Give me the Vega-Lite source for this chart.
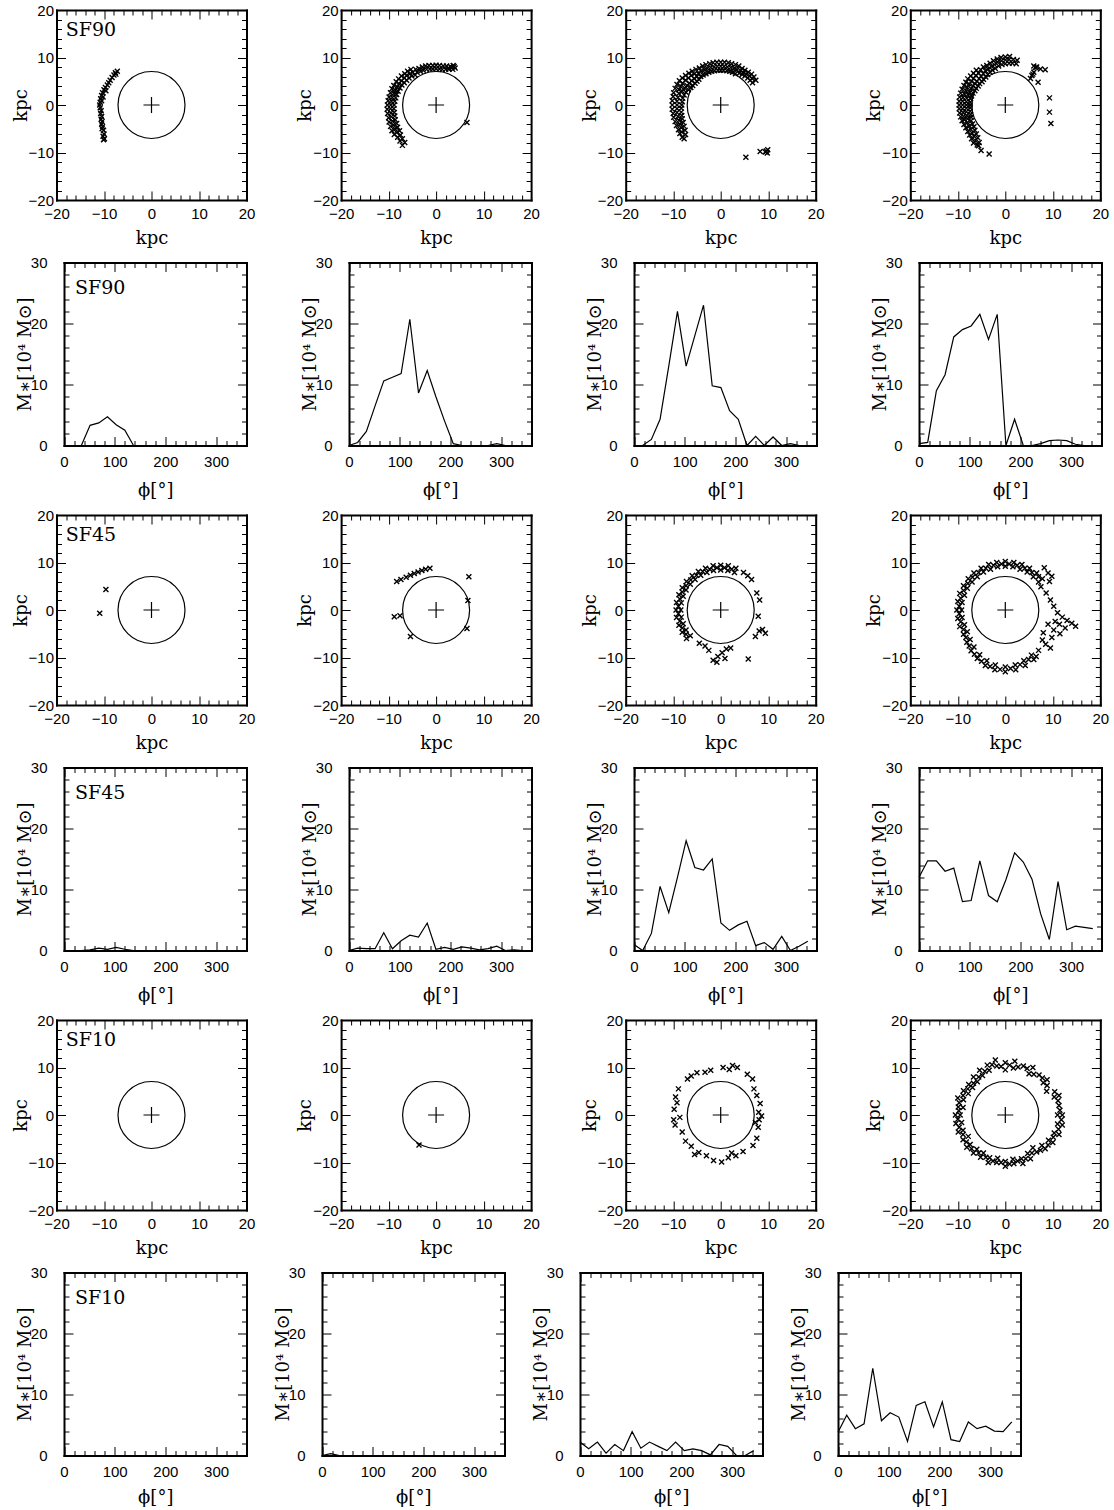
{
"$schema":"https://vega.github.io/schema/vega-lite/v6.json",
"padding":{"left":11.5,"top":3,"right":5,"bottom":0},
"config":{"view":{"stroke":null},"axis":{"grid":false,"domainColor":"black","domainWidth":2,"domainCap":"square","tickColor":"black","tickWidth":1,"labelFont":"Liberation Sans","labelFontSize":15,"labelColor":"black","labelOverlap":false,"labelFlush":false,"titleFont":"DejaVu Serif","titleFontSize":18,"titleFontWeight":"normal","titleColor":"black"}},
"datasets":{
"o":[{"x":0,"y":0}],
"lab":[{"p":"s90","x":-18.06,"y":14.6,"t":"SF90"},{"p":"h90","x":21.7,"y":24.9,"t":"SF90"},{"p":"s45","x":-18.06,"y":14.6,"t":"SF45"},{"p":"h45","x":21.7,"y":24.9,"t":"SF45"},{"p":"s10","x":-18.06,"y":14.6,"t":"SF10"},{"p":"h10","x":21.7,"y":24.9,"t":"SF10"}],
"s90a":[{"x":-7.2,"y":7.1},{"x":-7.6,"y":6.8},{"x":-7.9,"y":6.3},{"x":-7.5,"y":6.5},{"x":-8.3,"y":5.8},{"x":-8.7,"y":5.2},{"x":-9.0,"y":4.7},{"x":-9.3,"y":4.2},{"x":-9.7,"y":3.7},{"x":-10.0,"y":3.2},{"x":-9.6,"y":3.0},{"x":-10.3,"y":2.6},{"x":-10.5,"y":2.0},{"x":-10.2,"y":1.7},{"x":-10.7,"y":1.3},{"x":-10.8,"y":0.6},{"x":-10.5,"y":0.9},{"x":-10.9,"y":0.0},{"x":-10.8,"y":-0.6},{"x":-10.6,"y":-1.2},{"x":-10.7,"y":-1.8},{"x":-10.5,"y":-2.4},{"x":-10.6,"y":-3.0},{"x":-10.4,"y":-3.5},{"x":-10.5,"y":-4.0},{"x":-10.3,"y":-4.6},{"x":-10.4,"y":-5.0},{"x":-10.1,"y":-5.3},{"x":-10.0,"y":-6.1},{"x":-10.2,"y":-6.6},{"x":-9.9,"y":-7.1},{"x":-10.1,"y":-7.3}],
"s90b":[{"x":3.5,"y":7.5},{"x":3.8,"y":8.1},{"x":2.7,"y":7.5},{"x":3.0,"y":8.1},{"x":2.0,"y":7.5},{"x":2.2,"y":8.2},{"x":1.3,"y":7.5},{"x":1.5,"y":8.2},{"x":0.7,"y":7.6},{"x":0.7,"y":8.3},{"x":0,"y":7.65},{"x":0,"y":8.35},{"x":-0.7,"y":7.6},{"x":-0.7,"y":8.3},{"x":-1.3,"y":7.6},{"x":-1.5,"y":8.3},{"x":-2.0,"y":7.5},{"x":-2.2,"y":8.2},{"x":-2.7,"y":7.3},{"x":-2.9,"y":8.0},{"x":-3.3,"y":7.1},{"x":-3.6,"y":7.7},{"x":-4.0,"y":6.9},{"x":-4.3,"y":7.5},{"x":3.3,"y":7.9},{"x":4.0,"y":7.8},{"x":3.6,"y":8.3},{"x":2.6,"y":7.8},{"x":-4.4,"y":6.3},{"x":-4.9,"y":6.9},{"x":-5.3,"y":7.5},{"x":-5.1,"y":6.1},{"x":-5.5,"y":6.6},{"x":-6.0,"y":7.1},{"x":-5.7,"y":5.7},{"x":-6.2,"y":6.2},{"x":-6.6,"y":6.6},{"x":-6.2,"y":5.2},{"x":-6.7,"y":5.7},{"x":-7.3,"y":6.1},{"x":-6.7,"y":4.7},{"x":-7.3,"y":5.1},{"x":-7.9,"y":5.5},{"x":-7.2,"y":4.2},{"x":-7.8,"y":4.5},{"x":-8.4,"y":4.9},{"x":-7.6,"y":3.6},{"x":-8.2,"y":3.8},{"x":-8.9,"y":4.1},{"x":-8.0,"y":2.9},{"x":-8.6,"y":3.1},{"x":-9.3,"y":3.4},{"x":-8.3,"y":2.2},{"x":-8.9,"y":2.4},{"x":-9.6,"y":2.6},{"x":-8.5,"y":1.5},{"x":-9.2,"y":1.6},{"x":-9.9,"y":1.7},{"x":-8.7,"y":0.8},{"x":-9.4,"y":0.8},{"x":-10.1,"y":0.9},{"x":-8.85,"y":0},{"x":-9.55,"y":0},{"x":-10.25,"y":0},{"x":-8.9,"y":-0.8},{"x":-9.6,"y":-0.8},{"x":-10.3,"y":-0.9},{"x":-8.8,"y":-1.6},{"x":-9.5,"y":-1.7},{"x":-10.2,"y":-1.8},{"x":-8.7,"y":-2.3},{"x":-9.4,"y":-2.5},{"x":-10.0,"y":-2.7},{"x":-8.6,"y":-3.1},{"x":-9.2,"y":-3.4},{"x":-9.9,"y":-3.6},{"x":-8.3,"y":-3.9},{"x":-9.0,"y":-4.2},{"x":-9.6,"y":-4.5},{"x":-8.1,"y":-4.7},{"x":-8.7,"y":-5.0},{"x":-9.3,"y":-5.4},{"x":-7.7,"y":-5.4},{"x":-8.3,"y":-5.8},{"x":-8.8,"y":-6.2},{"x":-7.5,"y":-6.3},{"x":-8.1,"y":-6.8},{"x":-7.1,"y":-7.1},{"x":-7.6,"y":-7.6},{"x":-6.6,"y":-7.9},{"x":-7.1,"y":-8.5},{"x":6.5,"y":-3.7}],
"s90c":[{"x":6.7,"y":4.7},{"x":7.4,"y":5.2},{"x":6.2,"y":5.2},{"x":6.6,"y":5.6},{"x":7.0,"y":5.9},{"x":5.7,"y":5.7},{"x":6.1,"y":6.1},{"x":6.5,"y":6.5},{"x":5.1,"y":6.1},{"x":5.4,"y":6.5},{"x":5.8,"y":6.9},{"x":4.5,"y":6.4},{"x":4.8,"y":6.8},{"x":5.1,"y":7.3},{"x":3.9,"y":6.7},{"x":4.2,"y":7.2},{"x":4.5,"y":7.7},{"x":3.1,"y":6.6},{"x":3.4,"y":7.4},{"x":3.8,"y":8.2},{"x":2.5,"y":6.9},{"x":2.8,"y":7.7},{"x":3.1,"y":8.5},{"x":1.9,"y":7.1},{"x":2.1,"y":7.9},{"x":2.3,"y":8.7},{"x":1.3,"y":7.2},{"x":1.4,"y":8.0},{"x":1.6,"y":8.9},{"x":0.6,"y":7.3},{"x":0.7,"y":8.1},{"x":0.8,"y":9.0},{"x":0,"y":7.3},{"x":0,"y":8.15},{"x":0,"y":9.0},{"x":-0.6,"y":7.3},{"x":-0.7,"y":8.1},{"x":-0.8,"y":9.0},{"x":-1.3,"y":7.2},{"x":-1.4,"y":8.0},{"x":-1.6,"y":8.9},{"x":-1.9,"y":7.1},{"x":-2.1,"y":7.9},{"x":-2.3,"y":8.7},{"x":-2.5,"y":6.9},{"x":-2.8,"y":7.7},{"x":-3.1,"y":8.5},{"x":-3.1,"y":6.6},{"x":-3.4,"y":7.4},{"x":-3.8,"y":8.2},{"x":-3.7,"y":6.3},{"x":-4.1,"y":7.1},{"x":-4.5,"y":7.8},{"x":-4.2,"y":6.0},{"x":-4.7,"y":6.7},{"x":-5.2,"y":7.5},{"x":-4.6,"y":5.4},{"x":-5.0,"y":6.0},{"x":-5.5,"y":6.6},{"x":-6.0,"y":7.1},{"x":-5.0,"y":5.0},{"x":-5.6,"y":5.6},{"x":-6.2,"y":6.2},{"x":-6.7,"y":6.7},{"x":-5.4,"y":4.6},{"x":-6.1,"y":5.1},{"x":-6.8,"y":5.7},{"x":-7.4,"y":6.2},{"x":-5.9,"y":4.1},{"x":-6.6,"y":4.6},{"x":-7.4,"y":5.2},{"x":-8.1,"y":5.7},{"x":-6.3,"y":3.7},{"x":-7.1,"y":4.1},{"x":-8.0,"y":4.6},{"x":-8.7,"y":5.1},{"x":-6.8,"y":3.2},{"x":-7.6,"y":3.6},{"x":-8.4,"y":3.9},{"x":-9.2,"y":4.3},{"x":-7.3,"y":2.7},{"x":-8.1,"y":2.9},{"x":-8.8,"y":3.2},{"x":-9.6,"y":3.5},{"x":-7.7,"y":2.1},{"x":-8.8,"y":2.4},{"x":-9.9,"y":2.6},{"x":-8.0,"y":1.4},{"x":-9.0,"y":1.6},{"x":-10.0,"y":1.8},{"x":-8.1,"y":0.7},{"x":-9.2,"y":0.8},{"x":-10.2,"y":0.9},{"x":-8.2,"y":0},{"x":-9.2,"y":0},{"x":-10.2,"y":0},{"x":-8.3,"y":-0.7},{"x":-9.2,"y":-0.8},{"x":-10.2,"y":-0.9},{"x":-8.3,"y":-1.5},{"x":-9.2,"y":-1.6},{"x":-10.0,"y":-1.8},{"x":-8.2,"y":-2.2},{"x":-9.0,"y":-2.4},{"x":-9.9,"y":-2.6},{"x":-8.1,"y":-2.9},{"x":-8.8,"y":-3.2},{"x":-9.6,"y":-3.5},{"x":-7.9,"y":-3.7},{"x":-8.6,"y":-4.0},{"x":-9.3,"y":-4.3},{"x":-7.7,"y":-4.5},{"x":-8.3,"y":-4.8},{"x":-8.9,"y":-5.2},{"x":-7.5,"y":-5.3},{"x":-8.2,"y":-5.7},{"x":-8.6,"y":-6.0},{"x":-7.4,"y":-6.2},{"x":-8.1,"y":-6.8},{"x":-7.7,"y":-7.1},{"x":5.3,"y":-11.0},{"x":8.3,"y":-9.8},{"x":9.6,"y":-9.7},{"x":9.9,"y":-9.4},{"x":9.8,"y":-10.1},{"x":9.4,"y":-9.9}],
"s90d":[{"x":2.3,"y":8.7},{"x":2.5,"y":9.4},{"x":1.5,"y":8.8},{"x":1.7,"y":9.6},{"x":0.8,"y":8.8},{"x":0.8,"y":9.6},{"x":0.9,"y":10.2},{"x":0,"y":8.7},{"x":0,"y":9.45},{"x":0,"y":10.1},{"x":-0.7,"y":8.5},{"x":-0.8,"y":9.3},{"x":-0.9,"y":10.0},{"x":-1.4,"y":8.2},{"x":-1.6,"y":9.0},{"x":-1.7,"y":9.7},{"x":-2.1,"y":7.7},{"x":-2.3,"y":8.5},{"x":-2.5,"y":9.3},{"x":-2.7,"y":7.3},{"x":-2.9,"y":8.1},{"x":-3.2,"y":8.8},{"x":-3.2,"y":6.9},{"x":-3.6,"y":7.6},{"x":-3.9,"y":8.3},{"x":-3.7,"y":6.4},{"x":-4.2,"y":7.2},{"x":-4.6,"y":8.0},{"x":-4.1,"y":5.9},{"x":-4.6,"y":6.6},{"x":-5.2,"y":7.4},{"x":-4.6,"y":5.4},{"x":-5.1,"y":6.1},{"x":-5.6,"y":6.7},{"x":-6.1,"y":7.3},{"x":-4.9,"y":4.9},{"x":-5.5,"y":5.5},{"x":-6.2,"y":6.2},{"x":-6.7,"y":6.7},{"x":-5.4,"y":4.5},{"x":-6.0,"y":5.0},{"x":-6.7,"y":5.6},{"x":-7.3,"y":6.1},{"x":-5.7,"y":4.0},{"x":-6.4,"y":4.5},{"x":-7.1,"y":5.0},{"x":-7.9,"y":5.5},{"x":-6.1,"y":3.5},{"x":-6.8,"y":4.0},{"x":-7.6,"y":4.4},{"x":-8.3,"y":4.8},{"x":-6.4,"y":3.0},{"x":-7.2,"y":3.4},{"x":-8.0,"y":3.7},{"x":-8.7,"y":4.1},{"x":-6.8,"y":2.5},{"x":-7.5,"y":2.7},{"x":-8.3,"y":3.0},{"x":-9.1,"y":3.3},{"x":-7.1,"y":1.9},{"x":-7.8,"y":2.1},{"x":-8.6,"y":2.3},{"x":-9.4,"y":2.5},{"x":-7.3,"y":1.3},{"x":-8.1,"y":1.4},{"x":-8.9,"y":1.6},{"x":-9.6,"y":1.7},{"x":-7.4,"y":0.6},{"x":-8.2,"y":0.7},{"x":-9.0,"y":0.8},{"x":-9.7,"y":0.8},{"x":-7.4,"y":0},{"x":-8.2,"y":0},{"x":-9.0,"y":0},{"x":-9.7,"y":0},{"x":-7.4,"y":-0.6},{"x":-8.2,"y":-0.7},{"x":-9.0,"y":-0.8},{"x":-9.7,"y":-0.8},{"x":-7.4,"y":-1.3},{"x":-8.2,"y":-1.4},{"x":-8.9,"y":-1.6},{"x":-9.6,"y":-1.7},{"x":-7.3,"y":-2.0},{"x":-8.1,"y":-2.2},{"x":-8.8,"y":-2.4},{"x":-9.4,"y":-2.5},{"x":-7.2,"y":-2.6},{"x":-7.9,"y":-2.9},{"x":-8.6,"y":-3.1},{"x":-9.1,"y":-3.3},{"x":-7.2,"y":-3.3},{"x":-8.0,"y":-3.7},{"x":-8.7,"y":-4.1},{"x":-6.9,"y":-4.0},{"x":-7.6,"y":-4.4},{"x":-8.3,"y":-4.8},{"x":-6.6,"y":-4.6},{"x":-7.3,"y":-5.1},{"x":-7.9,"y":-5.6},{"x":-6.4,"y":-5.3},{"x":-7.0,"y":-5.9},{"x":-7.5,"y":-6.3},{"x":-6.1,"y":-6.1},{"x":-6.6,"y":-6.6},{"x":-7.1,"y":-7.1},{"x":-5.8,"y":-6.9},{"x":-6.3,"y":-7.5},{"x":-6.7,"y":-8.0},{"x":-5.5,"y":-7.9},{"x":-5.9,"y":-8.4},{"x":-5.6,"y":-8.6},{"x":-5.1,"y":-9.6},{"x":-3.4,"y":-10.3},{"x":6.3,"y":7.9},{"x":6.0,"y":8.2},{"x":6.6,"y":8.0},{"x":7.4,"y":7.6},{"x":8.4,"y":7.4},{"x":6.0,"y":6.9},{"x":5.6,"y":6.2},{"x":5.3,"y":5.6},{"x":5.8,"y":6.5},{"x":6.9,"y":4.8},{"x":9.3,"y":1.5},{"x":9.3,"y":-1.5},{"x":9.6,"y":-3.9}],
"s45a":[{"x":-9.6,"y":4.3},{"x":-10.9,"y":-0.7}],
"s45b":[{"x":-8.3,"y":6.0},{"x":-7.4,"y":6.4},{"x":-6.3,"y":6.9},{"x":-5.4,"y":7.3},{"x":-4.6,"y":7.7},{"x":-3.8,"y":8.0},{"x":-3.0,"y":8.3},{"x":-2.2,"y":8.6},{"x":-1.3,"y":8.8},{"x":6.9,"y":7.0},{"x":6.7,"y":2.0},{"x":6.5,"y":-3.9},{"x":-8.8,"y":-1.4},{"x":-7.6,"y":-1.2},{"x":-5.4,"y":-5.6}],
"s45c":[{"x":2.9,"y":7.9},{"x":3.2,"y":8.8},{"x":1.5,"y":8.3},{"x":1.6,"y":9.3},{"x":0,"y":8.4},{"x":0,"y":9.4},{"x":-1.5,"y":8.3},{"x":-1.6,"y":9.3},{"x":-2.9,"y":7.9},{"x":-3.2,"y":8.8},{"x":-4.2,"y":7.3},{"x":-4.7,"y":8.1},{"x":-5.4,"y":6.4},{"x":-6.0,"y":7.2},{"x":-6.4,"y":5.4},{"x":-7.2,"y":6.0},{"x":-7.3,"y":4.2},{"x":-8.1,"y":4.7},{"x":-7.9,"y":2.9},{"x":-8.8,"y":3.2},{"x":-8.3,"y":1.5},{"x":-9.3,"y":1.6},{"x":-8.4,"y":0},{"x":-9.4,"y":0},{"x":-8.3,"y":-1.5},{"x":-9.3,"y":-1.6},{"x":-7.9,"y":-2.9},{"x":-8.8,"y":-3.2},{"x":-7.3,"y":-4.2},{"x":-8.1,"y":-4.7},{"x":-6.4,"y":-5.4},{"x":-7.2,"y":-6.0},{"x":2.3,"y":8.6},{"x":0.8,"y":8.9},{"x":-0.8,"y":8.9},{"x":-2.3,"y":8.6},{"x":-3.8,"y":8.1},{"x":-5.1,"y":7.3},{"x":-6.3,"y":6.3},{"x":-7.3,"y":5.1},{"x":-8.1,"y":3.8},{"x":-8.6,"y":2.3},{"x":-8.9,"y":0.8},{"x":-8.9,"y":-0.8},{"x":-8.6,"y":-2.3},{"x":-8.1,"y":-3.8},{"x":-7.3,"y":-5.1},{"x":4.8,"y":7.9},{"x":5.7,"y":7.2},{"x":6.5,"y":6.4},{"x":7.6,"y":3.6},{"x":8.2,"y":2.1},{"x":7.9,"y":-1.3},{"x":8.1,"y":-4.4},{"x":8.8,"y":-4.1},{"x":9.4,"y":-4.9},{"x":7.3,"y":-5.6},{"x":1.2,"y":-8.2},{"x":0.3,"y":-9.0},{"x":-0.6,"y":-9.8},{"x":-1.6,"y":-10.6},{"x":-0.8,"y":-11.0},{"x":5.8,"y":-10.3},{"x":2.1,"y":-8.0},{"x":-3.3,"y":-7.6},{"x":-4.5,"y":-7.0},{"x":-2.5,"y":-8.5},{"x":0.9,"y":-10.2}],
"s45d":[{"x":7.0,"y":5.9},{"x":7.8,"y":6.6},{"x":5.9,"y":7.0},{"x":6.6,"y":7.8},{"x":4.6,"y":8.0},{"x":5.1,"y":8.8},{"x":3.1,"y":8.6},{"x":3.5,"y":9.6},{"x":1.6,"y":9.1},{"x":1.8,"y":10.0},{"x":0,"y":9.2},{"x":0,"y":10.2},{"x":-1.6,"y":9.1},{"x":-1.8,"y":10.0},{"x":-3.1,"y":8.6},{"x":-3.5,"y":9.6},{"x":-4.6,"y":8.0},{"x":-5.1,"y":8.8},{"x":-5.9,"y":7.0},{"x":-6.6,"y":7.8},{"x":-7.0,"y":5.9},{"x":-7.8,"y":6.6},{"x":-8.0,"y":4.6},{"x":-8.8,"y":5.1},{"x":-8.6,"y":3.1},{"x":-9.6,"y":3.5},{"x":-9.1,"y":1.6},{"x":-10.0,"y":1.8},{"x":-9.2,"y":0},{"x":-10.2,"y":0},{"x":-9.1,"y":-1.6},{"x":-10.0,"y":-1.8},{"x":-8.6,"y":-3.1},{"x":-9.6,"y":-3.5},{"x":-8.0,"y":-4.6},{"x":-8.8,"y":-5.1},{"x":-7.4,"y":-6.2},{"x":-8.1,"y":-6.8},{"x":-6.6,"y":-7.8},{"x":-7.2,"y":-8.6},{"x":-5.4,"y":-9.4},{"x":-5.9,"y":-10.2},{"x":-3.9,"y":-10.7},{"x":-4.2,"y":-11.7},{"x":-2.1,"y":-11.6},{"x":-2.2,"y":-12.6},{"x":0,"y":-12.0},{"x":0,"y":-13.0},{"x":2.1,"y":-11.6},{"x":2.2,"y":-12.6},{"x":3.9,"y":-10.7},{"x":4.2,"y":-11.7},{"x":5.5,"y":-9.5},{"x":6.0,"y":-10.4},{"x":7.0,"y":7.0},{"x":5.6,"y":7.9},{"x":4.1,"y":8.8},{"x":2.5,"y":9.4},{"x":0.8,"y":9.7},{"x":-0.8,"y":9.7},{"x":-2.5,"y":9.4},{"x":-4.1,"y":8.8},{"x":-5.6,"y":7.9},{"x":-6.9,"y":6.9},{"x":-7.9,"y":5.6},{"x":-8.8,"y":4.1},{"x":-9.4,"y":2.5},{"x":-9.7,"y":0.8},{"x":-9.7,"y":-0.8},{"x":-9.4,"y":-2.5},{"x":-8.8,"y":-4.1},{"x":-8.3,"y":-5.8},{"x":-7.6,"y":-7.6},{"x":-6.5,"y":-9.3},{"x":-5.0,"y":-10.8},{"x":-3.2,"y":-11.9},{"x":-1.1,"y":-12.5},{"x":1.1,"y":-12.3},{"x":3.1,"y":-11.5},{"x":4.9,"y":-10.4},{"x":8.2,"y":8.9},{"x":9.0,"y":7.8},{"x":9.8,"y":7.1},{"x":9.3,"y":6.0},{"x":7.5,"y":4.9},{"x":8.6,"y":3.6},{"x":9.5,"y":2.1},{"x":10.2,"y":0.8},{"x":11.0,"y":-0.6},{"x":12.0,"y":-1.5},{"x":13.0,"y":-2.2},{"x":14.0,"y":-2.8},{"x":14.8,"y":-3.4},{"x":11.4,"y":-3.0},{"x":12.6,"y":-3.8},{"x":10.5,"y":-2.4},{"x":9.0,"y":-3.0},{"x":10.2,"y":-4.2},{"x":11.5,"y":-5.0},{"x":7.8,"y":-6.3},{"x":8.5,"y":-7.2},{"x":9.5,"y":-8.0},{"x":7.0,"y":-8.5},{"x":6.5,"y":-9.8},{"x":9.8,"y":-5.8},{"x":8.0,"y":-4.8}],
"s10a":[],
"s10b":[{"x":-3.6,"y":-6.3}],
"s10c":[{"x":-7.0,"y":7.6},{"x":-6.2,"y":8.2},{"x":-5.0,"y":8.9},{"x":2.5,"y":10.4},{"x":3.5,"y":10.0},{"x":1.8,"y":9.6},{"x":5.6,"y":8.6},{"x":6.7,"y":7.6},{"x":-8.9,"y":5.5},{"x":-9.5,"y":3.8},{"x":-9.2,"y":2.6},{"x":-9.8,"y":1.2},{"x":-8.6,"y":-0.5},{"x":-9.6,"y":-2.1},{"x":-8.1,"y":-3.6},{"x":-7.4,"y":-5.5},{"x":-6.2,"y":-6.6},{"x":-4.6,"y":-7.9},{"x":-3.0,"y":-8.6},{"x":-1.5,"y":-9.6},{"x":0.2,"y":-9.9},{"x":1.6,"y":-9.0},{"x":3.2,"y":-8.6},{"x":4.7,"y":-7.7},{"x":6.8,"y":-6.4},{"x":7.6,"y":-4.9},{"x":7.9,"y":-2.6},{"x":8.1,"y":-1.0},{"x":8.0,"y":0.6},{"x":8.3,"y":2.4},{"x":7.6,"y":4.1},{"x":-9.9,"y":-1.0},{"x":-5.5,"y":-8.3},{"x":2.3,"y":-8.0},{"x":7.3,"y":-1.6},{"x":8.6,"y":-0.2},{"x":7.0,"y":5.5},{"x":-2.1,"y":9.4},{"x":-3.3,"y":9.0},{"x":0.5,"y":10.0}],
"s10d":[{"x":11.0,"y":0},{"x":12.0,"y":0},{"x":11.3,"y":2.0},{"x":10.3,"y":3.8},{"x":11.3,"y":4.1},{"x":8.7,"y":5.0},{"x":8.0,"y":6.8},{"x":8.8,"y":7.4},{"x":7.1,"y":8.4},{"x":5.0,"y":8.7},{"x":5.8,"y":10.0},{"x":3.8,"y":10.3},{"x":1.7,"y":9.9},{"x":2.0,"y":11.3},{"x":0,"y":11.0},{"x":0,"y":9.5},{"x":-1.8,"y":10.3},{"x":-2.1,"y":11.6},{"x":-3.4,"y":9.4},{"x":-3.8,"y":10.5},{"x":-4.8,"y":8.3},{"x":-5.4,"y":9.4},{"x":-5.9,"y":7.0},{"x":-6.7,"y":8.0},{"x":-6.9,"y":5.8},{"x":-7.7,"y":6.4},{"x":-7.8,"y":4.5},{"x":-8.8,"y":5.1},{"x":-8.8,"y":3.2},{"x":-10.0,"y":3.6},{"x":-8.9,"y":1.6},{"x":-9.9,"y":1.7},{"x":-9.5,"y":0},{"x":-10.5,"y":0},{"x":-9.2,"y":-1.6},{"x":-10.4,"y":-1.8},{"x":-8.9,"y":-3.2},{"x":-9.9,"y":-3.6},{"x":-7.8,"y":-4.5},{"x":-8.9,"y":-5.2},{"x":-7.4,"y":-6.2},{"x":-8.1,"y":-6.8},{"x":-6.0,"y":-7.2},{"x":-6.7,"y":-8.0},{"x":-4.6,"y":-8.0},{"x":-5.2,"y":-8.9},{"x":-3.3,"y":-9.0},{"x":-3.6,"y":-10.0},{"x":-1.6,"y":-9.1},{"x":-1.8,"y":-10.0},{"x":0,"y":-9.8},{"x":0,"y":-10.8},{"x":1.6,"y":-9.3},{"x":1.8,"y":-10.2},{"x":3.4,"y":-9.2},{"x":3.7,"y":-10.2},{"x":4.7,"y":-8.1},{"x":5.3,"y":-9.2},{"x":5.8,"y":-6.9},{"x":6.6,"y":-7.8},{"x":7.7,"y":-6.4},{"x":8.4,"y":-7.1},{"x":9.1,"y":-5.3},{"x":10.0,"y":-5.8},{"x":10.3,"y":-3.8},{"x":11.3,"y":-4.1},{"x":11.0,"y":-1.9},{"x":12.0,"y":-2.1},{"x":11.5,"y":1.0},{"x":11.1,"y":3.0},{"x":10.4,"y":4.9},{"x":8.8,"y":6.2},{"x":7.8,"y":7.8},{"x":6.0,"y":8.6},{"x":4.6,"y":9.8},{"x":2.7,"y":10.1},{"x":0.9,"y":10.5},{"x":-0.9,"y":10.2},{"x":-2.8,"y":10.6},{"x":-4.3,"y":9.2},{"x":-5.6,"y":8.0},{"x":-6.7,"y":6.7},{"x":-7.9,"y":5.5},{"x":-8.9,"y":4.1},{"x":-9.7,"y":2.6},{"x":-9.8,"y":0.9},{"x":-10.0,"y":-0.9},{"x":-9.7,"y":-2.6},{"x":-8.9,"y":-4.1},{"x":-8.2,"y":-5.7},{"x":-7.1,"y":-7.1},{"x":-5.6,"y":-8.0},{"x":-4.1,"y":-8.9},{"x":-2.6,"y":-9.7},{"x":-0.9,"y":-10.0},{"x":0.9,"y":-10.3},{"x":2.6,"y":-9.7},{"x":4.3,"y":-9.2},{"x":5.6,"y":-8.0},{"x":7.4,"y":-7.4},{"x":9.0,"y":-6.3},{"x":10.1,"y":-4.7},{"x":11.2,"y":-3.0},{"x":11.8,"y":-1.0}],
"h90a":[{"f":0,"m":0},{"f":17.14,"m":0},{"f":34.29,"m":0},{"f":51.43,"m":3.3},{"f":68.57,"m":3.7},{"f":85.71,"m":4.7},{"f":102.86,"m":3.4},{"f":120,"m":2.5},{"f":137.14,"m":0},{"f":154.29,"m":0},{"f":171.43,"m":0},{"f":188.57,"m":0},{"f":205.71,"m":0},{"f":222.86,"m":0},{"f":240,"m":0},{"f":257.14,"m":0},{"f":274.29,"m":0},{"f":291.43,"m":0},{"f":308.57,"m":0},{"f":325.71,"m":0},{"f":342.86,"m":0}],
"h90b":[{"f":0,"m":0},{"f":17.14,"m":0.5},{"f":34.29,"m":2.3},{"f":51.43,"m":6.5},{"f":68.57,"m":10.6},{"f":85.71,"m":11.2},{"f":102.86,"m":11.8},{"f":120,"m":20.7},{"f":137.14,"m":8.6},{"f":154.29,"m":12.3},{"f":171.43,"m":8.0},{"f":188.57,"m":4.0},{"f":205.71,"m":0.3},{"f":222.86,"m":0},{"f":240,"m":0},{"f":257.14,"m":0},{"f":274.29,"m":0},{"f":291.43,"m":0.3},{"f":308.57,"m":0},{"f":325.71,"m":0},{"f":342.86,"m":0}],
"h90c":[{"f":0,"m":0},{"f":17.14,"m":0},{"f":34.29,"m":1.0},{"f":51.43,"m":4.3},{"f":68.57,"m":13.0},{"f":85.71,"m":22.0},{"f":102.86,"m":13.0},{"f":120,"m":18.0},{"f":137.14,"m":23.0},{"f":154.29,"m":9.8},{"f":171.43,"m":9.5},{"f":188.57,"m":5.7},{"f":205.71,"m":4.3},{"f":222.86,"m":0},{"f":240,"m":1.5},{"f":257.14,"m":0},{"f":274.29,"m":1.4},{"f":291.43,"m":0},{"f":308.57,"m":0.3},{"f":325.71,"m":0},{"f":342.86,"m":0}],
"h90d":[{"f":0,"m":0.3},{"f":17.14,"m":0.5},{"f":34.29,"m":9.0},{"f":51.43,"m":11.6},{"f":68.57,"m":17.8},{"f":85.71,"m":19.0},{"f":102.86,"m":19.6},{"f":120,"m":21.5},{"f":137.14,"m":17.4},{"f":154.29,"m":21.5},{"f":171.43,"m":0},{"f":188.57,"m":4.3},{"f":205.71,"m":0},{"f":222.86,"m":0},{"f":240,"m":0.3},{"f":257.14,"m":0.8},{"f":274.29,"m":0.9},{"f":291.43,"m":0.8},{"f":308.57,"m":0.2},{"f":325.71,"m":0},{"f":342.86,"m":0}],
"h45a":[{"f":0,"m":0},{"f":17.14,"m":0},{"f":34.29,"m":0},{"f":51.43,"m":0.1},{"f":68.57,"m":0.4},{"f":85.71,"m":0.2},{"f":102.86,"m":0.5},{"f":120,"m":0.2},{"f":137.14,"m":0},{"f":154.29,"m":0},{"f":171.43,"m":0},{"f":188.57,"m":0},{"f":205.71,"m":0},{"f":222.86,"m":0},{"f":240,"m":0},{"f":257.14,"m":0},{"f":274.29,"m":0},{"f":291.43,"m":0},{"f":308.57,"m":0},{"f":325.71,"m":0},{"f":342.86,"m":0}],
"h45b":[{"f":0,"m":0},{"f":17.14,"m":0.4},{"f":34.29,"m":0.3},{"f":51.43,"m":0.3},{"f":68.57,"m":2.9},{"f":85.71,"m":0.3},{"f":102.86,"m":1.6},{"f":120,"m":2.5},{"f":137.14,"m":2.2},{"f":154.29,"m":4.5},{"f":171.43,"m":0.2},{"f":188.57,"m":0.5},{"f":205.71,"m":0.2},{"f":222.86,"m":0.6},{"f":240,"m":0.4},{"f":257.14,"m":0.1},{"f":274.29,"m":0.3},{"f":291.43,"m":0.7},{"f":308.57,"m":0},{"f":325.71,"m":0.1},{"f":342.86,"m":0}],
"h45c":[{"f":0,"m":1.0},{"f":17.14,"m":0},{"f":34.29,"m":2.8},{"f":51.43,"m":10.5},{"f":68.57,"m":6.2},{"f":85.71,"m":12.0},{"f":102.86,"m":18.0},{"f":120,"m":13.6},{"f":137.14,"m":13.2},{"f":154.29,"m":15.0},{"f":171.43,"m":4.5},{"f":188.57,"m":3.3},{"f":205.71,"m":4.2},{"f":222.86,"m":4.8},{"f":240,"m":0.8},{"f":257.14,"m":1.3},{"f":274.29,"m":0.2},{"f":291.43,"m":2.3},{"f":308.57,"m":0},{"f":325.71,"m":0.7},{"f":342.86,"m":1.5}],
"h45d":[{"f":0,"m":12.0},{"f":17.14,"m":14.7},{"f":34.29,"m":14.7},{"f":51.43,"m":13.0},{"f":68.57,"m":13.5},{"f":85.71,"m":8.0},{"f":102.86,"m":8.2},{"f":120,"m":14.7},{"f":137.14,"m":9.0},{"f":154.29,"m":8.0},{"f":171.43,"m":11.6},{"f":188.57,"m":16.0},{"f":205.71,"m":14.5},{"f":222.86,"m":11.7},{"f":240,"m":6.0},{"f":257.14,"m":1.8},{"f":274.29,"m":11.3},{"f":291.43,"m":3.4},{"f":308.57,"m":4.0},{"f":325.71,"m":3.8},{"f":342.86,"m":3.6}],
"h10a":[{"f":0,"m":0},{"f":17.14,"m":0},{"f":34.29,"m":0},{"f":51.43,"m":0},{"f":68.57,"m":0},{"f":85.71,"m":0},{"f":102.86,"m":0},{"f":120,"m":0},{"f":137.14,"m":0},{"f":154.29,"m":0},{"f":171.43,"m":0},{"f":188.57,"m":0},{"f":205.71,"m":0},{"f":222.86,"m":0},{"f":240,"m":0},{"f":257.14,"m":0},{"f":274.29,"m":0},{"f":291.43,"m":0},{"f":308.57,"m":0},{"f":325.71,"m":0},{"f":342.86,"m":0}],
"h10b":[{"f":0,"m":0},{"f":17.14,"m":0.3},{"f":34.29,"m":0},{"f":51.43,"m":0},{"f":68.57,"m":0},{"f":85.71,"m":0},{"f":102.86,"m":0},{"f":120,"m":0},{"f":137.14,"m":0},{"f":154.29,"m":0},{"f":171.43,"m":0},{"f":188.57,"m":0},{"f":205.71,"m":0},{"f":222.86,"m":0},{"f":240,"m":0},{"f":257.14,"m":0},{"f":274.29,"m":0},{"f":291.43,"m":0},{"f":308.57,"m":0},{"f":325.71,"m":0},{"f":342.86,"m":0}],
"h10c":[{"f":0,"m":2.2},{"f":17.14,"m":1.1},{"f":34.29,"m":2.2},{"f":51.43,"m":0.4},{"f":68.57,"m":1.8},{"f":85.71,"m":0.8},{"f":102.86,"m":3.9},{"f":120,"m":1.2},{"f":137.14,"m":2.2},{"f":154.29,"m":1.5},{"f":171.43,"m":0.8},{"f":188.57,"m":2.2},{"f":205.71,"m":0.8},{"f":222.86,"m":1.1},{"f":240,"m":0.8},{"f":257.14,"m":0.1},{"f":274.29,"m":1.8},{"f":291.43,"m":1.5},{"f":308.57,"m":0},{"f":325.71,"m":0},{"f":342.86,"m":0.8}],
"h10d":[{"f":0,"m":3.8},{"f":17.14,"m":6.6},{"f":34.29,"m":4.4},{"f":51.43,"m":5.2},{"f":68.57,"m":14.3},{"f":85.71,"m":5.7},{"f":102.86,"m":7.0},{"f":120,"m":6.3},{"f":137.14,"m":2.3},{"f":154.29,"m":8.2},{"f":171.43,"m":8.8},{"f":188.57,"m":4.7},{"f":205.71,"m":8.8},{"f":222.86,"m":2.6},{"f":240,"m":2.3},{"f":257.14,"m":5.5},{"f":274.29,"m":4.4},{"f":291.43,"m":4.8},{"f":308.57,"m":4.0},{"f":325.71,"m":3.9},{"f":342.86,"m":5.5}]
},
"spacing":8.5,
"vconcat":[
{"spacing":40.6,"hconcat":[
{"width":190,"height":190,"resolve":{"axis":{"x":"independent","y":"independent"}},"layer":[
{"data":{"name":"o"},"mark":{"type":"point","shape":"circle","size":4489,"filled":false,"stroke":"black","strokeWidth":1.2,"opacity":1},"encoding":{"x":{"field":"x","type":"quantitative","scale":{"domain":[-20,20],"nice":false,"zero":false},"axis":{"orient":"bottom","values":[-20,-18,-16,-14,-12,-10,-8,-6,-4,-2,0,2,4,6,8,10,12,14,16,18,20],"tickSize":{"condition":{"test":"datum.value % 10 === 0","value":-9},"value":-5},"labelExpr":"datum.value % 10 === 0 ? datum.label : ''","labelPadding":15,"title":"kpc","titlePadding":4}},"y":{"field":"y","type":"quantitative","scale":{"domain":[-20,20],"nice":false,"zero":false},"axis":{"orient":"left","values":[-20,-18,-16,-14,-12,-10,-8,-6,-4,-2,0,2,4,6,8,10,12,14,16,18,20],"tickSize":{"condition":{"test":"datum.value % 10 === 0","value":-9},"value":-5},"labelExpr":"datum.value % 10 === 0 ? datum.label : ''","labelPadding":12,"title":"kpc","titlePadding":-2}}}},
{"data":{"name":"o"},"mark":{"type":"point","shape":"M-1,0L1,0M0,-1L0,1","size":256,"filled":false,"stroke":"black","strokeWidth":1.2,"opacity":1},"encoding":{"x":{"field":"x","type":"quantitative","scale":{"domain":[-20,20],"nice":false,"zero":false},"axis":null},"y":{"field":"y","type":"quantitative","scale":{"domain":[-20,20],"nice":false,"zero":false},"axis":null}}},
{"data":{"name":"s90a"},"mark":{"type":"point","shape":"M-1,-1L1,1M-1,1L1,-1","size":25,"filled":false,"stroke":"black","strokeWidth":1.4,"opacity":1},"encoding":{"x":{"field":"x","type":"quantitative","scale":{"domain":[-20,20],"nice":false,"zero":false},"axis":{"orient":"top","values":[-20,-18,-16,-14,-12,-10,-8,-6,-4,-2,0,2,4,6,8,10,12,14,16,18,20],"tickSize":{"condition":{"test":"datum.value % 10 === 0","value":-9},"value":-5},"labels":false,"title":null}},"y":{"field":"y","type":"quantitative","scale":{"domain":[-20,20],"nice":false,"zero":false},"axis":{"orient":"right","values":[-20,-18,-16,-14,-12,-10,-8,-6,-4,-2,0,2,4,6,8,10,12,14,16,18,20],"tickSize":{"condition":{"test":"datum.value % 10 === 0","value":-9},"value":-5},"labels":false,"title":null}}}},
{"data":{"name":"lab"},"transform":[{"filter":"datum.p === 's90'"}],"mark":{"type":"text","align":"left","baseline":"alphabetic","font":"DejaVu Serif","fontSize":19,"color":"black"},"encoding":{"x":{"field":"x","type":"quantitative","scale":{"domain":[-20,20],"nice":false,"zero":false},"axis":null},"y":{"field":"y","type":"quantitative","scale":{"domain":[-20,20],"nice":false,"zero":false},"axis":null},"text":{"field":"t","type":"nominal"}}}
]},
{"width":190,"height":190,"resolve":{"axis":{"x":"independent","y":"independent"}},"layer":[
{"data":{"name":"o"},"mark":{"type":"point","shape":"circle","size":4489,"filled":false,"stroke":"black","strokeWidth":1.2,"opacity":1},"encoding":{"x":{"field":"x","type":"quantitative","scale":{"domain":[-20,20],"nice":false,"zero":false},"axis":{"orient":"bottom","values":[-20,-18,-16,-14,-12,-10,-8,-6,-4,-2,0,2,4,6,8,10,12,14,16,18,20],"tickSize":{"condition":{"test":"datum.value % 10 === 0","value":-9},"value":-5},"labelExpr":"datum.value % 10 === 0 ? datum.label : ''","labelPadding":15,"title":"kpc","titlePadding":4}},"y":{"field":"y","type":"quantitative","scale":{"domain":[-20,20],"nice":false,"zero":false},"axis":{"orient":"left","values":[-20,-18,-16,-14,-12,-10,-8,-6,-4,-2,0,2,4,6,8,10,12,14,16,18,20],"tickSize":{"condition":{"test":"datum.value % 10 === 0","value":-9},"value":-5},"labelExpr":"datum.value % 10 === 0 ? datum.label : ''","labelPadding":12,"title":"kpc","titlePadding":-2}}}},
{"data":{"name":"o"},"mark":{"type":"point","shape":"M-1,0L1,0M0,-1L0,1","size":256,"filled":false,"stroke":"black","strokeWidth":1.2,"opacity":1},"encoding":{"x":{"field":"x","type":"quantitative","scale":{"domain":[-20,20],"nice":false,"zero":false},"axis":null},"y":{"field":"y","type":"quantitative","scale":{"domain":[-20,20],"nice":false,"zero":false},"axis":null}}},
{"data":{"name":"s90b"},"mark":{"type":"point","shape":"M-1,-1L1,1M-1,1L1,-1","size":25,"filled":false,"stroke":"black","strokeWidth":1.4,"opacity":1},"encoding":{"x":{"field":"x","type":"quantitative","scale":{"domain":[-20,20],"nice":false,"zero":false},"axis":{"orient":"top","values":[-20,-18,-16,-14,-12,-10,-8,-6,-4,-2,0,2,4,6,8,10,12,14,16,18,20],"tickSize":{"condition":{"test":"datum.value % 10 === 0","value":-9},"value":-5},"labels":false,"title":null}},"y":{"field":"y","type":"quantitative","scale":{"domain":[-20,20],"nice":false,"zero":false},"axis":{"orient":"right","values":[-20,-18,-16,-14,-12,-10,-8,-6,-4,-2,0,2,4,6,8,10,12,14,16,18,20],"tickSize":{"condition":{"test":"datum.value % 10 === 0","value":-9},"value":-5},"labels":false,"title":null}}}}
]},
{"width":190,"height":190,"resolve":{"axis":{"x":"independent","y":"independent"}},"layer":[
{"data":{"name":"o"},"mark":{"type":"point","shape":"circle","size":4489,"filled":false,"stroke":"black","strokeWidth":1.2,"opacity":1},"encoding":{"x":{"field":"x","type":"quantitative","scale":{"domain":[-20,20],"nice":false,"zero":false},"axis":{"orient":"bottom","values":[-20,-18,-16,-14,-12,-10,-8,-6,-4,-2,0,2,4,6,8,10,12,14,16,18,20],"tickSize":{"condition":{"test":"datum.value % 10 === 0","value":-9},"value":-5},"labelExpr":"datum.value % 10 === 0 ? datum.label : ''","labelPadding":15,"title":"kpc","titlePadding":4}},"y":{"field":"y","type":"quantitative","scale":{"domain":[-20,20],"nice":false,"zero":false},"axis":{"orient":"left","values":[-20,-18,-16,-14,-12,-10,-8,-6,-4,-2,0,2,4,6,8,10,12,14,16,18,20],"tickSize":{"condition":{"test":"datum.value % 10 === 0","value":-9},"value":-5},"labelExpr":"datum.value % 10 === 0 ? datum.label : ''","labelPadding":12,"title":"kpc","titlePadding":-2}}}},
{"data":{"name":"o"},"mark":{"type":"point","shape":"M-1,0L1,0M0,-1L0,1","size":256,"filled":false,"stroke":"black","strokeWidth":1.2,"opacity":1},"encoding":{"x":{"field":"x","type":"quantitative","scale":{"domain":[-20,20],"nice":false,"zero":false},"axis":null},"y":{"field":"y","type":"quantitative","scale":{"domain":[-20,20],"nice":false,"zero":false},"axis":null}}},
{"data":{"name":"s90c"},"mark":{"type":"point","shape":"M-1,-1L1,1M-1,1L1,-1","size":25,"filled":false,"stroke":"black","strokeWidth":1.4,"opacity":1},"encoding":{"x":{"field":"x","type":"quantitative","scale":{"domain":[-20,20],"nice":false,"zero":false},"axis":{"orient":"top","values":[-20,-18,-16,-14,-12,-10,-8,-6,-4,-2,0,2,4,6,8,10,12,14,16,18,20],"tickSize":{"condition":{"test":"datum.value % 10 === 0","value":-9},"value":-5},"labels":false,"title":null}},"y":{"field":"y","type":"quantitative","scale":{"domain":[-20,20],"nice":false,"zero":false},"axis":{"orient":"right","values":[-20,-18,-16,-14,-12,-10,-8,-6,-4,-2,0,2,4,6,8,10,12,14,16,18,20],"tickSize":{"condition":{"test":"datum.value % 10 === 0","value":-9},"value":-5},"labels":false,"title":null}}}}
]},
{"width":190,"height":190,"resolve":{"axis":{"x":"independent","y":"independent"}},"layer":[
{"data":{"name":"o"},"mark":{"type":"point","shape":"circle","size":4489,"filled":false,"stroke":"black","strokeWidth":1.2,"opacity":1},"encoding":{"x":{"field":"x","type":"quantitative","scale":{"domain":[-20,20],"nice":false,"zero":false},"axis":{"orient":"bottom","values":[-20,-18,-16,-14,-12,-10,-8,-6,-4,-2,0,2,4,6,8,10,12,14,16,18,20],"tickSize":{"condition":{"test":"datum.value % 10 === 0","value":-9},"value":-5},"labelExpr":"datum.value % 10 === 0 ? datum.label : ''","labelPadding":15,"title":"kpc","titlePadding":4}},"y":{"field":"y","type":"quantitative","scale":{"domain":[-20,20],"nice":false,"zero":false},"axis":{"orient":"left","values":[-20,-18,-16,-14,-12,-10,-8,-6,-4,-2,0,2,4,6,8,10,12,14,16,18,20],"tickSize":{"condition":{"test":"datum.value % 10 === 0","value":-9},"value":-5},"labelExpr":"datum.value % 10 === 0 ? datum.label : ''","labelPadding":12,"title":"kpc","titlePadding":-2}}}},
{"data":{"name":"o"},"mark":{"type":"point","shape":"M-1,0L1,0M0,-1L0,1","size":256,"filled":false,"stroke":"black","strokeWidth":1.2,"opacity":1},"encoding":{"x":{"field":"x","type":"quantitative","scale":{"domain":[-20,20],"nice":false,"zero":false},"axis":null},"y":{"field":"y","type":"quantitative","scale":{"domain":[-20,20],"nice":false,"zero":false},"axis":null}}},
{"data":{"name":"s90d"},"mark":{"type":"point","shape":"M-1,-1L1,1M-1,1L1,-1","size":25,"filled":false,"stroke":"black","strokeWidth":1.4,"opacity":1},"encoding":{"x":{"field":"x","type":"quantitative","scale":{"domain":[-20,20],"nice":false,"zero":false},"axis":{"orient":"top","values":[-20,-18,-16,-14,-12,-10,-8,-6,-4,-2,0,2,4,6,8,10,12,14,16,18,20],"tickSize":{"condition":{"test":"datum.value % 10 === 0","value":-9},"value":-5},"labels":false,"title":null}},"y":{"field":"y","type":"quantitative","scale":{"domain":[-20,20],"nice":false,"zero":false},"axis":{"orient":"right","values":[-20,-18,-16,-14,-12,-10,-8,-6,-4,-2,0,2,4,6,8,10,12,14,16,18,20],"tickSize":{"condition":{"test":"datum.value % 10 === 0","value":-9},"value":-5},"labels":false,"title":null}}}}
]}
]},
{"spacing":53,"hconcat":[
{"width":190,"height":183,"resolve":{"axis":{"x":"independent","y":"independent"}},"layer":[
{"data":{"name":"h90a"},"mark":{"type":"line","color":"black","strokeWidth":1.2},"encoding":{"x":{"field":"f","type":"quantitative","scale":{"domain":[0,360],"range":[7.5,190],"nice":false,"zero":false},"axis":{"orient":"bottom","values":[0,20,40,60,80,100,120,140,160,180,200,220,240,260,280,300,320,340,360],"tickSize":{"condition":{"test":"datum.value % 100 === 0","value":-9},"value":-5},"labelExpr":"datum.value % 100 === 0 ? datum.label : ''","labelPadding":18,"title":"ϕ[°]","titlePadding":8}},"y":{"field":"m","type":"quantitative","scale":{"domain":[0,30],"nice":false,"zero":false},"axis":{"orient":"left","offset":-7.5,"values":[0,2,4,6,8,10,12,14,16,18,20,22,24,26,28,30],"tickSize":{"condition":{"test":"datum.value % 10 === 0","value":-9},"value":-5},"labelExpr":"datum.value % 10 === 0 ? datum.label : ''","labelPadding":26,"title":"M∗[10⁴ M⊙]","titlePadding":-4}}}},
{"data":{"name":"h90a"},"mark":{"type":"line","color":"black","opacity":0},"encoding":{"x":{"field":"f","type":"quantitative","scale":{"domain":[0,360],"range":[7.5,190],"nice":false,"zero":false},"axis":{"orient":"top","values":[0,20,40,60,80,100,120,140,160,180,200,220,240,260,280,300,320,340,360],"tickSize":{"condition":{"test":"datum.value % 100 === 0","value":-9},"value":-5},"labels":false,"title":null}},"y":{"field":"m","type":"quantitative","scale":{"domain":[0,30],"nice":false,"zero":false},"axis":{"orient":"right","values":[0,2,4,6,8,10,12,14,16,18,20,22,24,26,28,30],"tickSize":{"condition":{"test":"datum.value % 10 === 0","value":-9},"value":-5},"labels":false,"title":null}}}},
{"data":{"name":"lab"},"transform":[{"filter":"datum.p === 'h90'"}],"mark":{"type":"text","align":"left","baseline":"alphabetic","font":"DejaVu Serif","fontSize":19,"color":"black"},"encoding":{"x":{"field":"x","type":"quantitative","scale":{"domain":[0,360],"range":[7.5,190],"nice":false,"zero":false},"axis":null},"y":{"field":"y","type":"quantitative","scale":{"domain":[0,30],"nice":false,"zero":false},"axis":null},"text":{"field":"t","type":"nominal"}}}
]},
{"width":190,"height":183,"resolve":{"axis":{"x":"independent","y":"independent"}},"layer":[
{"data":{"name":"h90b"},"mark":{"type":"line","color":"black","strokeWidth":1.2},"encoding":{"x":{"field":"f","type":"quantitative","scale":{"domain":[0,360],"range":[7.5,190],"nice":false,"zero":false},"axis":{"orient":"bottom","values":[0,20,40,60,80,100,120,140,160,180,200,220,240,260,280,300,320,340,360],"tickSize":{"condition":{"test":"datum.value % 100 === 0","value":-9},"value":-5},"labelExpr":"datum.value % 100 === 0 ? datum.label : ''","labelPadding":18,"title":"ϕ[°]","titlePadding":8}},"y":{"field":"m","type":"quantitative","scale":{"domain":[0,30],"nice":false,"zero":false},"axis":{"orient":"left","offset":-7.5,"values":[0,2,4,6,8,10,12,14,16,18,20,22,24,26,28,30],"tickSize":{"condition":{"test":"datum.value % 10 === 0","value":-9},"value":-5},"labelExpr":"datum.value % 10 === 0 ? datum.label : ''","labelPadding":26,"title":"M∗[10⁴ M⊙]","titlePadding":-4}}}},
{"data":{"name":"h90b"},"mark":{"type":"line","color":"black","opacity":0},"encoding":{"x":{"field":"f","type":"quantitative","scale":{"domain":[0,360],"range":[7.5,190],"nice":false,"zero":false},"axis":{"orient":"top","values":[0,20,40,60,80,100,120,140,160,180,200,220,240,260,280,300,320,340,360],"tickSize":{"condition":{"test":"datum.value % 100 === 0","value":-9},"value":-5},"labels":false,"title":null}},"y":{"field":"m","type":"quantitative","scale":{"domain":[0,30],"nice":false,"zero":false},"axis":{"orient":"right","values":[0,2,4,6,8,10,12,14,16,18,20,22,24,26,28,30],"tickSize":{"condition":{"test":"datum.value % 10 === 0","value":-9},"value":-5},"labels":false,"title":null}}}}
]},
{"width":190,"height":183,"resolve":{"axis":{"x":"independent","y":"independent"}},"layer":[
{"data":{"name":"h90c"},"mark":{"type":"line","color":"black","strokeWidth":1.2},"encoding":{"x":{"field":"f","type":"quantitative","scale":{"domain":[0,360],"range":[7.5,190],"nice":false,"zero":false},"axis":{"orient":"bottom","values":[0,20,40,60,80,100,120,140,160,180,200,220,240,260,280,300,320,340,360],"tickSize":{"condition":{"test":"datum.value % 100 === 0","value":-9},"value":-5},"labelExpr":"datum.value % 100 === 0 ? datum.label : ''","labelPadding":18,"title":"ϕ[°]","titlePadding":8}},"y":{"field":"m","type":"quantitative","scale":{"domain":[0,30],"nice":false,"zero":false},"axis":{"orient":"left","offset":-7.5,"values":[0,2,4,6,8,10,12,14,16,18,20,22,24,26,28,30],"tickSize":{"condition":{"test":"datum.value % 10 === 0","value":-9},"value":-5},"labelExpr":"datum.value % 10 === 0 ? datum.label : ''","labelPadding":26,"title":"M∗[10⁴ M⊙]","titlePadding":-4}}}},
{"data":{"name":"h90c"},"mark":{"type":"line","color":"black","opacity":0},"encoding":{"x":{"field":"f","type":"quantitative","scale":{"domain":[0,360],"range":[7.5,190],"nice":false,"zero":false},"axis":{"orient":"top","values":[0,20,40,60,80,100,120,140,160,180,200,220,240,260,280,300,320,340,360],"tickSize":{"condition":{"test":"datum.value % 100 === 0","value":-9},"value":-5},"labels":false,"title":null}},"y":{"field":"m","type":"quantitative","scale":{"domain":[0,30],"nice":false,"zero":false},"axis":{"orient":"right","values":[0,2,4,6,8,10,12,14,16,18,20,22,24,26,28,30],"tickSize":{"condition":{"test":"datum.value % 10 === 0","value":-9},"value":-5},"labels":false,"title":null}}}}
]},
{"width":190,"height":183,"resolve":{"axis":{"x":"independent","y":"independent"}},"layer":[
{"data":{"name":"h90d"},"mark":{"type":"line","color":"black","strokeWidth":1.2},"encoding":{"x":{"field":"f","type":"quantitative","scale":{"domain":[0,360],"range":[7.5,190],"nice":false,"zero":false},"axis":{"orient":"bottom","values":[0,20,40,60,80,100,120,140,160,180,200,220,240,260,280,300,320,340,360],"tickSize":{"condition":{"test":"datum.value % 100 === 0","value":-9},"value":-5},"labelExpr":"datum.value % 100 === 0 ? datum.label : ''","labelPadding":18,"title":"ϕ[°]","titlePadding":8}},"y":{"field":"m","type":"quantitative","scale":{"domain":[0,30],"nice":false,"zero":false},"axis":{"orient":"left","offset":-7.5,"values":[0,2,4,6,8,10,12,14,16,18,20,22,24,26,28,30],"tickSize":{"condition":{"test":"datum.value % 10 === 0","value":-9},"value":-5},"labelExpr":"datum.value % 10 === 0 ? datum.label : ''","labelPadding":26,"title":"M∗[10⁴ M⊙]","titlePadding":-4}}}},
{"data":{"name":"h90d"},"mark":{"type":"line","color":"black","opacity":0},"encoding":{"x":{"field":"f","type":"quantitative","scale":{"domain":[0,360],"range":[7.5,190],"nice":false,"zero":false},"axis":{"orient":"top","values":[0,20,40,60,80,100,120,140,160,180,200,220,240,260,280,300,320,340,360],"tickSize":{"condition":{"test":"datum.value % 100 === 0","value":-9},"value":-5},"labels":false,"title":null}},"y":{"field":"m","type":"quantitative","scale":{"domain":[0,30],"nice":false,"zero":false},"axis":{"orient":"right","values":[0,2,4,6,8,10,12,14,16,18,20,22,24,26,28,30],"tickSize":{"condition":{"test":"datum.value % 10 === 0","value":-9},"value":-5},"labels":false,"title":null}}}}
]}
]},
{"spacing":40.6,"hconcat":[
{"width":190,"height":190,"resolve":{"axis":{"x":"independent","y":"independent"}},"layer":[
{"data":{"name":"o"},"mark":{"type":"point","shape":"circle","size":4489,"filled":false,"stroke":"black","strokeWidth":1.2,"opacity":1},"encoding":{"x":{"field":"x","type":"quantitative","scale":{"domain":[-20,20],"nice":false,"zero":false},"axis":{"orient":"bottom","values":[-20,-18,-16,-14,-12,-10,-8,-6,-4,-2,0,2,4,6,8,10,12,14,16,18,20],"tickSize":{"condition":{"test":"datum.value % 10 === 0","value":-9},"value":-5},"labelExpr":"datum.value % 10 === 0 ? datum.label : ''","labelPadding":15,"title":"kpc","titlePadding":4}},"y":{"field":"y","type":"quantitative","scale":{"domain":[-20,20],"nice":false,"zero":false},"axis":{"orient":"left","values":[-20,-18,-16,-14,-12,-10,-8,-6,-4,-2,0,2,4,6,8,10,12,14,16,18,20],"tickSize":{"condition":{"test":"datum.value % 10 === 0","value":-9},"value":-5},"labelExpr":"datum.value % 10 === 0 ? datum.label : ''","labelPadding":12,"title":"kpc","titlePadding":-2}}}},
{"data":{"name":"o"},"mark":{"type":"point","shape":"M-1,0L1,0M0,-1L0,1","size":256,"filled":false,"stroke":"black","strokeWidth":1.2,"opacity":1},"encoding":{"x":{"field":"x","type":"quantitative","scale":{"domain":[-20,20],"nice":false,"zero":false},"axis":null},"y":{"field":"y","type":"quantitative","scale":{"domain":[-20,20],"nice":false,"zero":false},"axis":null}}},
{"data":{"name":"s45a"},"mark":{"type":"point","shape":"M-1,-1L1,1M-1,1L1,-1","size":25,"filled":false,"stroke":"black","strokeWidth":1.4,"opacity":1},"encoding":{"x":{"field":"x","type":"quantitative","scale":{"domain":[-20,20],"nice":false,"zero":false},"axis":{"orient":"top","values":[-20,-18,-16,-14,-12,-10,-8,-6,-4,-2,0,2,4,6,8,10,12,14,16,18,20],"tickSize":{"condition":{"test":"datum.value % 10 === 0","value":-9},"value":-5},"labels":false,"title":null}},"y":{"field":"y","type":"quantitative","scale":{"domain":[-20,20],"nice":false,"zero":false},"axis":{"orient":"right","values":[-20,-18,-16,-14,-12,-10,-8,-6,-4,-2,0,2,4,6,8,10,12,14,16,18,20],"tickSize":{"condition":{"test":"datum.value % 10 === 0","value":-9},"value":-5},"labels":false,"title":null}}}},
{"data":{"name":"lab"},"transform":[{"filter":"datum.p === 's45'"}],"mark":{"type":"text","align":"left","baseline":"alphabetic","font":"DejaVu Serif","fontSize":19,"color":"black"},"encoding":{"x":{"field":"x","type":"quantitative","scale":{"domain":[-20,20],"nice":false,"zero":false},"axis":null},"y":{"field":"y","type":"quantitative","scale":{"domain":[-20,20],"nice":false,"zero":false},"axis":null},"text":{"field":"t","type":"nominal"}}}
]},
{"width":190,"height":190,"resolve":{"axis":{"x":"independent","y":"independent"}},"layer":[
{"data":{"name":"o"},"mark":{"type":"point","shape":"circle","size":4489,"filled":false,"stroke":"black","strokeWidth":1.2,"opacity":1},"encoding":{"x":{"field":"x","type":"quantitative","scale":{"domain":[-20,20],"nice":false,"zero":false},"axis":{"orient":"bottom","values":[-20,-18,-16,-14,-12,-10,-8,-6,-4,-2,0,2,4,6,8,10,12,14,16,18,20],"tickSize":{"condition":{"test":"datum.value % 10 === 0","value":-9},"value":-5},"labelExpr":"datum.value % 10 === 0 ? datum.label : ''","labelPadding":15,"title":"kpc","titlePadding":4}},"y":{"field":"y","type":"quantitative","scale":{"domain":[-20,20],"nice":false,"zero":false},"axis":{"orient":"left","values":[-20,-18,-16,-14,-12,-10,-8,-6,-4,-2,0,2,4,6,8,10,12,14,16,18,20],"tickSize":{"condition":{"test":"datum.value % 10 === 0","value":-9},"value":-5},"labelExpr":"datum.value % 10 === 0 ? datum.label : ''","labelPadding":12,"title":"kpc","titlePadding":-2}}}},
{"data":{"name":"o"},"mark":{"type":"point","shape":"M-1,0L1,0M0,-1L0,1","size":256,"filled":false,"stroke":"black","strokeWidth":1.2,"opacity":1},"encoding":{"x":{"field":"x","type":"quantitative","scale":{"domain":[-20,20],"nice":false,"zero":false},"axis":null},"y":{"field":"y","type":"quantitative","scale":{"domain":[-20,20],"nice":false,"zero":false},"axis":null}}},
{"data":{"name":"s45b"},"mark":{"type":"point","shape":"M-1,-1L1,1M-1,1L1,-1","size":25,"filled":false,"stroke":"black","strokeWidth":1.4,"opacity":1},"encoding":{"x":{"field":"x","type":"quantitative","scale":{"domain":[-20,20],"nice":false,"zero":false},"axis":{"orient":"top","values":[-20,-18,-16,-14,-12,-10,-8,-6,-4,-2,0,2,4,6,8,10,12,14,16,18,20],"tickSize":{"condition":{"test":"datum.value % 10 === 0","value":-9},"value":-5},"labels":false,"title":null}},"y":{"field":"y","type":"quantitative","scale":{"domain":[-20,20],"nice":false,"zero":false},"axis":{"orient":"right","values":[-20,-18,-16,-14,-12,-10,-8,-6,-4,-2,0,2,4,6,8,10,12,14,16,18,20],"tickSize":{"condition":{"test":"datum.value % 10 === 0","value":-9},"value":-5},"labels":false,"title":null}}}}
]},
{"width":190,"height":190,"resolve":{"axis":{"x":"independent","y":"independent"}},"layer":[
{"data":{"name":"o"},"mark":{"type":"point","shape":"circle","size":4489,"filled":false,"stroke":"black","strokeWidth":1.2,"opacity":1},"encoding":{"x":{"field":"x","type":"quantitative","scale":{"domain":[-20,20],"nice":false,"zero":false},"axis":{"orient":"bottom","values":[-20,-18,-16,-14,-12,-10,-8,-6,-4,-2,0,2,4,6,8,10,12,14,16,18,20],"tickSize":{"condition":{"test":"datum.value % 10 === 0","value":-9},"value":-5},"labelExpr":"datum.value % 10 === 0 ? datum.label : ''","labelPadding":15,"title":"kpc","titlePadding":4}},"y":{"field":"y","type":"quantitative","scale":{"domain":[-20,20],"nice":false,"zero":false},"axis":{"orient":"left","values":[-20,-18,-16,-14,-12,-10,-8,-6,-4,-2,0,2,4,6,8,10,12,14,16,18,20],"tickSize":{"condition":{"test":"datum.value % 10 === 0","value":-9},"value":-5},"labelExpr":"datum.value % 10 === 0 ? datum.label : ''","labelPadding":12,"title":"kpc","titlePadding":-2}}}},
{"data":{"name":"o"},"mark":{"type":"point","shape":"M-1,0L1,0M0,-1L0,1","size":256,"filled":false,"stroke":"black","strokeWidth":1.2,"opacity":1},"encoding":{"x":{"field":"x","type":"quantitative","scale":{"domain":[-20,20],"nice":false,"zero":false},"axis":null},"y":{"field":"y","type":"quantitative","scale":{"domain":[-20,20],"nice":false,"zero":false},"axis":null}}},
{"data":{"name":"s45c"},"mark":{"type":"point","shape":"M-1,-1L1,1M-1,1L1,-1","size":25,"filled":false,"stroke":"black","strokeWidth":1.4,"opacity":1},"encoding":{"x":{"field":"x","type":"quantitative","scale":{"domain":[-20,20],"nice":false,"zero":false},"axis":{"orient":"top","values":[-20,-18,-16,-14,-12,-10,-8,-6,-4,-2,0,2,4,6,8,10,12,14,16,18,20],"tickSize":{"condition":{"test":"datum.value % 10 === 0","value":-9},"value":-5},"labels":false,"title":null}},"y":{"field":"y","type":"quantitative","scale":{"domain":[-20,20],"nice":false,"zero":false},"axis":{"orient":"right","values":[-20,-18,-16,-14,-12,-10,-8,-6,-4,-2,0,2,4,6,8,10,12,14,16,18,20],"tickSize":{"condition":{"test":"datum.value % 10 === 0","value":-9},"value":-5},"labels":false,"title":null}}}}
]},
{"width":190,"height":190,"resolve":{"axis":{"x":"independent","y":"independent"}},"layer":[
{"data":{"name":"o"},"mark":{"type":"point","shape":"circle","size":4489,"filled":false,"stroke":"black","strokeWidth":1.2,"opacity":1},"encoding":{"x":{"field":"x","type":"quantitative","scale":{"domain":[-20,20],"nice":false,"zero":false},"axis":{"orient":"bottom","values":[-20,-18,-16,-14,-12,-10,-8,-6,-4,-2,0,2,4,6,8,10,12,14,16,18,20],"tickSize":{"condition":{"test":"datum.value % 10 === 0","value":-9},"value":-5},"labelExpr":"datum.value % 10 === 0 ? datum.label : ''","labelPadding":15,"title":"kpc","titlePadding":4}},"y":{"field":"y","type":"quantitative","scale":{"domain":[-20,20],"nice":false,"zero":false},"axis":{"orient":"left","values":[-20,-18,-16,-14,-12,-10,-8,-6,-4,-2,0,2,4,6,8,10,12,14,16,18,20],"tickSize":{"condition":{"test":"datum.value % 10 === 0","value":-9},"value":-5},"labelExpr":"datum.value % 10 === 0 ? datum.label : ''","labelPadding":12,"title":"kpc","titlePadding":-2}}}},
{"data":{"name":"o"},"mark":{"type":"point","shape":"M-1,0L1,0M0,-1L0,1","size":256,"filled":false,"stroke":"black","strokeWidth":1.2,"opacity":1},"encoding":{"x":{"field":"x","type":"quantitative","scale":{"domain":[-20,20],"nice":false,"zero":false},"axis":null},"y":{"field":"y","type":"quantitative","scale":{"domain":[-20,20],"nice":false,"zero":false},"axis":null}}},
{"data":{"name":"s45d"},"mark":{"type":"point","shape":"M-1,-1L1,1M-1,1L1,-1","size":25,"filled":false,"stroke":"black","strokeWidth":1.4,"opacity":1},"encoding":{"x":{"field":"x","type":"quantitative","scale":{"domain":[-20,20],"nice":false,"zero":false},"axis":{"orient":"top","values":[-20,-18,-16,-14,-12,-10,-8,-6,-4,-2,0,2,4,6,8,10,12,14,16,18,20],"tickSize":{"condition":{"test":"datum.value % 10 === 0","value":-9},"value":-5},"labels":false,"title":null}},"y":{"field":"y","type":"quantitative","scale":{"domain":[-20,20],"nice":false,"zero":false},"axis":{"orient":"right","values":[-20,-18,-16,-14,-12,-10,-8,-6,-4,-2,0,2,4,6,8,10,12,14,16,18,20],"tickSize":{"condition":{"test":"datum.value % 10 === 0","value":-9},"value":-5},"labels":false,"title":null}}}}
]}
]},
{"spacing":53,"hconcat":[
{"width":190,"height":183,"resolve":{"axis":{"x":"independent","y":"independent"}},"layer":[
{"data":{"name":"h45a"},"mark":{"type":"line","color":"black","strokeWidth":1.2},"encoding":{"x":{"field":"f","type":"quantitative","scale":{"domain":[0,360],"range":[7.5,190],"nice":false,"zero":false},"axis":{"orient":"bottom","values":[0,20,40,60,80,100,120,140,160,180,200,220,240,260,280,300,320,340,360],"tickSize":{"condition":{"test":"datum.value % 100 === 0","value":-9},"value":-5},"labelExpr":"datum.value % 100 === 0 ? datum.label : ''","labelPadding":18,"title":"ϕ[°]","titlePadding":8}},"y":{"field":"m","type":"quantitative","scale":{"domain":[0,30],"nice":false,"zero":false},"axis":{"orient":"left","offset":-7.5,"values":[0,2,4,6,8,10,12,14,16,18,20,22,24,26,28,30],"tickSize":{"condition":{"test":"datum.value % 10 === 0","value":-9},"value":-5},"labelExpr":"datum.value % 10 === 0 ? datum.label : ''","labelPadding":26,"title":"M∗[10⁴ M⊙]","titlePadding":-4}}}},
{"data":{"name":"h45a"},"mark":{"type":"line","color":"black","opacity":0},"encoding":{"x":{"field":"f","type":"quantitative","scale":{"domain":[0,360],"range":[7.5,190],"nice":false,"zero":false},"axis":{"orient":"top","values":[0,20,40,60,80,100,120,140,160,180,200,220,240,260,280,300,320,340,360],"tickSize":{"condition":{"test":"datum.value % 100 === 0","value":-9},"value":-5},"labels":false,"title":null}},"y":{"field":"m","type":"quantitative","scale":{"domain":[0,30],"nice":false,"zero":false},"axis":{"orient":"right","values":[0,2,4,6,8,10,12,14,16,18,20,22,24,26,28,30],"tickSize":{"condition":{"test":"datum.value % 10 === 0","value":-9},"value":-5},"labels":false,"title":null}}}},
{"data":{"name":"lab"},"transform":[{"filter":"datum.p === 'h45'"}],"mark":{"type":"text","align":"left","baseline":"alphabetic","font":"DejaVu Serif","fontSize":19,"color":"black"},"encoding":{"x":{"field":"x","type":"quantitative","scale":{"domain":[0,360],"range":[7.5,190],"nice":false,"zero":false},"axis":null},"y":{"field":"y","type":"quantitative","scale":{"domain":[0,30],"nice":false,"zero":false},"axis":null},"text":{"field":"t","type":"nominal"}}}
]},
{"width":190,"height":183,"resolve":{"axis":{"x":"independent","y":"independent"}},"layer":[
{"data":{"name":"h45b"},"mark":{"type":"line","color":"black","strokeWidth":1.2},"encoding":{"x":{"field":"f","type":"quantitative","scale":{"domain":[0,360],"range":[7.5,190],"nice":false,"zero":false},"axis":{"orient":"bottom","values":[0,20,40,60,80,100,120,140,160,180,200,220,240,260,280,300,320,340,360],"tickSize":{"condition":{"test":"datum.value % 100 === 0","value":-9},"value":-5},"labelExpr":"datum.value % 100 === 0 ? datum.label : ''","labelPadding":18,"title":"ϕ[°]","titlePadding":8}},"y":{"field":"m","type":"quantitative","scale":{"domain":[0,30],"nice":false,"zero":false},"axis":{"orient":"left","offset":-7.5,"values":[0,2,4,6,8,10,12,14,16,18,20,22,24,26,28,30],"tickSize":{"condition":{"test":"datum.value % 10 === 0","value":-9},"value":-5},"labelExpr":"datum.value % 10 === 0 ? datum.label : ''","labelPadding":26,"title":"M∗[10⁴ M⊙]","titlePadding":-4}}}},
{"data":{"name":"h45b"},"mark":{"type":"line","color":"black","opacity":0},"encoding":{"x":{"field":"f","type":"quantitative","scale":{"domain":[0,360],"range":[7.5,190],"nice":false,"zero":false},"axis":{"orient":"top","values":[0,20,40,60,80,100,120,140,160,180,200,220,240,260,280,300,320,340,360],"tickSize":{"condition":{"test":"datum.value % 100 === 0","value":-9},"value":-5},"labels":false,"title":null}},"y":{"field":"m","type":"quantitative","scale":{"domain":[0,30],"nice":false,"zero":false},"axis":{"orient":"right","values":[0,2,4,6,8,10,12,14,16,18,20,22,24,26,28,30],"tickSize":{"condition":{"test":"datum.value % 10 === 0","value":-9},"value":-5},"labels":false,"title":null}}}}
]},
{"width":190,"height":183,"resolve":{"axis":{"x":"independent","y":"independent"}},"layer":[
{"data":{"name":"h45c"},"mark":{"type":"line","color":"black","strokeWidth":1.2},"encoding":{"x":{"field":"f","type":"quantitative","scale":{"domain":[0,360],"range":[7.5,190],"nice":false,"zero":false},"axis":{"orient":"bottom","values":[0,20,40,60,80,100,120,140,160,180,200,220,240,260,280,300,320,340,360],"tickSize":{"condition":{"test":"datum.value % 100 === 0","value":-9},"value":-5},"labelExpr":"datum.value % 100 === 0 ? datum.label : ''","labelPadding":18,"title":"ϕ[°]","titlePadding":8}},"y":{"field":"m","type":"quantitative","scale":{"domain":[0,30],"nice":false,"zero":false},"axis":{"orient":"left","offset":-7.5,"values":[0,2,4,6,8,10,12,14,16,18,20,22,24,26,28,30],"tickSize":{"condition":{"test":"datum.value % 10 === 0","value":-9},"value":-5},"labelExpr":"datum.value % 10 === 0 ? datum.label : ''","labelPadding":26,"title":"M∗[10⁴ M⊙]","titlePadding":-4}}}},
{"data":{"name":"h45c"},"mark":{"type":"line","color":"black","opacity":0},"encoding":{"x":{"field":"f","type":"quantitative","scale":{"domain":[0,360],"range":[7.5,190],"nice":false,"zero":false},"axis":{"orient":"top","values":[0,20,40,60,80,100,120,140,160,180,200,220,240,260,280,300,320,340,360],"tickSize":{"condition":{"test":"datum.value % 100 === 0","value":-9},"value":-5},"labels":false,"title":null}},"y":{"field":"m","type":"quantitative","scale":{"domain":[0,30],"nice":false,"zero":false},"axis":{"orient":"right","values":[0,2,4,6,8,10,12,14,16,18,20,22,24,26,28,30],"tickSize":{"condition":{"test":"datum.value % 10 === 0","value":-9},"value":-5},"labels":false,"title":null}}}}
]},
{"width":190,"height":183,"resolve":{"axis":{"x":"independent","y":"independent"}},"layer":[
{"data":{"name":"h45d"},"mark":{"type":"line","color":"black","strokeWidth":1.2},"encoding":{"x":{"field":"f","type":"quantitative","scale":{"domain":[0,360],"range":[7.5,190],"nice":false,"zero":false},"axis":{"orient":"bottom","values":[0,20,40,60,80,100,120,140,160,180,200,220,240,260,280,300,320,340,360],"tickSize":{"condition":{"test":"datum.value % 100 === 0","value":-9},"value":-5},"labelExpr":"datum.value % 100 === 0 ? datum.label : ''","labelPadding":18,"title":"ϕ[°]","titlePadding":8}},"y":{"field":"m","type":"quantitative","scale":{"domain":[0,30],"nice":false,"zero":false},"axis":{"orient":"left","offset":-7.5,"values":[0,2,4,6,8,10,12,14,16,18,20,22,24,26,28,30],"tickSize":{"condition":{"test":"datum.value % 10 === 0","value":-9},"value":-5},"labelExpr":"datum.value % 10 === 0 ? datum.label : ''","labelPadding":26,"title":"M∗[10⁴ M⊙]","titlePadding":-4}}}},
{"data":{"name":"h45d"},"mark":{"type":"line","color":"black","opacity":0},"encoding":{"x":{"field":"f","type":"quantitative","scale":{"domain":[0,360],"range":[7.5,190],"nice":false,"zero":false},"axis":{"orient":"top","values":[0,20,40,60,80,100,120,140,160,180,200,220,240,260,280,300,320,340,360],"tickSize":{"condition":{"test":"datum.value % 100 === 0","value":-9},"value":-5},"labels":false,"title":null}},"y":{"field":"m","type":"quantitative","scale":{"domain":[0,30],"nice":false,"zero":false},"axis":{"orient":"right","values":[0,2,4,6,8,10,12,14,16,18,20,22,24,26,28,30],"tickSize":{"condition":{"test":"datum.value % 10 === 0","value":-9},"value":-5},"labels":false,"title":null}}}}
]}
]},
{"spacing":40.6,"hconcat":[
{"width":190,"height":190,"resolve":{"axis":{"x":"independent","y":"independent"}},"layer":[
{"data":{"name":"o"},"mark":{"type":"point","shape":"circle","size":4489,"filled":false,"stroke":"black","strokeWidth":1.2,"opacity":1},"encoding":{"x":{"field":"x","type":"quantitative","scale":{"domain":[-20,20],"nice":false,"zero":false},"axis":{"orient":"bottom","values":[-20,-18,-16,-14,-12,-10,-8,-6,-4,-2,0,2,4,6,8,10,12,14,16,18,20],"tickSize":{"condition":{"test":"datum.value % 10 === 0","value":-9},"value":-5},"labelExpr":"datum.value % 10 === 0 ? datum.label : ''","labelPadding":15,"title":"kpc","titlePadding":4}},"y":{"field":"y","type":"quantitative","scale":{"domain":[-20,20],"nice":false,"zero":false},"axis":{"orient":"left","values":[-20,-18,-16,-14,-12,-10,-8,-6,-4,-2,0,2,4,6,8,10,12,14,16,18,20],"tickSize":{"condition":{"test":"datum.value % 10 === 0","value":-9},"value":-5},"labelExpr":"datum.value % 10 === 0 ? datum.label : ''","labelPadding":12,"title":"kpc","titlePadding":-2}}}},
{"data":{"name":"o"},"mark":{"type":"point","shape":"M-1,0L1,0M0,-1L0,1","size":256,"filled":false,"stroke":"black","strokeWidth":1.2,"opacity":1},"encoding":{"x":{"field":"x","type":"quantitative","scale":{"domain":[-20,20],"nice":false,"zero":false},"axis":null},"y":{"field":"y","type":"quantitative","scale":{"domain":[-20,20],"nice":false,"zero":false},"axis":null}}},
{"data":{"name":"s10a"},"mark":{"type":"point","shape":"M-1,-1L1,1M-1,1L1,-1","size":25,"filled":false,"stroke":"black","strokeWidth":1.4,"opacity":1},"encoding":{"x":{"field":"x","type":"quantitative","scale":{"domain":[-20,20],"nice":false,"zero":false},"axis":{"orient":"top","values":[-20,-18,-16,-14,-12,-10,-8,-6,-4,-2,0,2,4,6,8,10,12,14,16,18,20],"tickSize":{"condition":{"test":"datum.value % 10 === 0","value":-9},"value":-5},"labels":false,"title":null}},"y":{"field":"y","type":"quantitative","scale":{"domain":[-20,20],"nice":false,"zero":false},"axis":{"orient":"right","values":[-20,-18,-16,-14,-12,-10,-8,-6,-4,-2,0,2,4,6,8,10,12,14,16,18,20],"tickSize":{"condition":{"test":"datum.value % 10 === 0","value":-9},"value":-5},"labels":false,"title":null}}}},
{"data":{"name":"lab"},"transform":[{"filter":"datum.p === 's10'"}],"mark":{"type":"text","align":"left","baseline":"alphabetic","font":"DejaVu Serif","fontSize":19,"color":"black"},"encoding":{"x":{"field":"x","type":"quantitative","scale":{"domain":[-20,20],"nice":false,"zero":false},"axis":null},"y":{"field":"y","type":"quantitative","scale":{"domain":[-20,20],"nice":false,"zero":false},"axis":null},"text":{"field":"t","type":"nominal"}}}
]},
{"width":190,"height":190,"resolve":{"axis":{"x":"independent","y":"independent"}},"layer":[
{"data":{"name":"o"},"mark":{"type":"point","shape":"circle","size":4489,"filled":false,"stroke":"black","strokeWidth":1.2,"opacity":1},"encoding":{"x":{"field":"x","type":"quantitative","scale":{"domain":[-20,20],"nice":false,"zero":false},"axis":{"orient":"bottom","values":[-20,-18,-16,-14,-12,-10,-8,-6,-4,-2,0,2,4,6,8,10,12,14,16,18,20],"tickSize":{"condition":{"test":"datum.value % 10 === 0","value":-9},"value":-5},"labelExpr":"datum.value % 10 === 0 ? datum.label : ''","labelPadding":15,"title":"kpc","titlePadding":4}},"y":{"field":"y","type":"quantitative","scale":{"domain":[-20,20],"nice":false,"zero":false},"axis":{"orient":"left","values":[-20,-18,-16,-14,-12,-10,-8,-6,-4,-2,0,2,4,6,8,10,12,14,16,18,20],"tickSize":{"condition":{"test":"datum.value % 10 === 0","value":-9},"value":-5},"labelExpr":"datum.value % 10 === 0 ? datum.label : ''","labelPadding":12,"title":"kpc","titlePadding":-2}}}},
{"data":{"name":"o"},"mark":{"type":"point","shape":"M-1,0L1,0M0,-1L0,1","size":256,"filled":false,"stroke":"black","strokeWidth":1.2,"opacity":1},"encoding":{"x":{"field":"x","type":"quantitative","scale":{"domain":[-20,20],"nice":false,"zero":false},"axis":null},"y":{"field":"y","type":"quantitative","scale":{"domain":[-20,20],"nice":false,"zero":false},"axis":null}}},
{"data":{"name":"s10b"},"mark":{"type":"point","shape":"M-1,-1L1,1M-1,1L1,-1","size":25,"filled":false,"stroke":"black","strokeWidth":1.4,"opacity":1},"encoding":{"x":{"field":"x","type":"quantitative","scale":{"domain":[-20,20],"nice":false,"zero":false},"axis":{"orient":"top","values":[-20,-18,-16,-14,-12,-10,-8,-6,-4,-2,0,2,4,6,8,10,12,14,16,18,20],"tickSize":{"condition":{"test":"datum.value % 10 === 0","value":-9},"value":-5},"labels":false,"title":null}},"y":{"field":"y","type":"quantitative","scale":{"domain":[-20,20],"nice":false,"zero":false},"axis":{"orient":"right","values":[-20,-18,-16,-14,-12,-10,-8,-6,-4,-2,0,2,4,6,8,10,12,14,16,18,20],"tickSize":{"condition":{"test":"datum.value % 10 === 0","value":-9},"value":-5},"labels":false,"title":null}}}}
]},
{"width":190,"height":190,"resolve":{"axis":{"x":"independent","y":"independent"}},"layer":[
{"data":{"name":"o"},"mark":{"type":"point","shape":"circle","size":4489,"filled":false,"stroke":"black","strokeWidth":1.2,"opacity":1},"encoding":{"x":{"field":"x","type":"quantitative","scale":{"domain":[-20,20],"nice":false,"zero":false},"axis":{"orient":"bottom","values":[-20,-18,-16,-14,-12,-10,-8,-6,-4,-2,0,2,4,6,8,10,12,14,16,18,20],"tickSize":{"condition":{"test":"datum.value % 10 === 0","value":-9},"value":-5},"labelExpr":"datum.value % 10 === 0 ? datum.label : ''","labelPadding":15,"title":"kpc","titlePadding":4}},"y":{"field":"y","type":"quantitative","scale":{"domain":[-20,20],"nice":false,"zero":false},"axis":{"orient":"left","values":[-20,-18,-16,-14,-12,-10,-8,-6,-4,-2,0,2,4,6,8,10,12,14,16,18,20],"tickSize":{"condition":{"test":"datum.value % 10 === 0","value":-9},"value":-5},"labelExpr":"datum.value % 10 === 0 ? datum.label : ''","labelPadding":12,"title":"kpc","titlePadding":-2}}}},
{"data":{"name":"o"},"mark":{"type":"point","shape":"M-1,0L1,0M0,-1L0,1","size":256,"filled":false,"stroke":"black","strokeWidth":1.2,"opacity":1},"encoding":{"x":{"field":"x","type":"quantitative","scale":{"domain":[-20,20],"nice":false,"zero":false},"axis":null},"y":{"field":"y","type":"quantitative","scale":{"domain":[-20,20],"nice":false,"zero":false},"axis":null}}},
{"data":{"name":"s10c"},"mark":{"type":"point","shape":"M-1,-1L1,1M-1,1L1,-1","size":25,"filled":false,"stroke":"black","strokeWidth":1.4,"opacity":1},"encoding":{"x":{"field":"x","type":"quantitative","scale":{"domain":[-20,20],"nice":false,"zero":false},"axis":{"orient":"top","values":[-20,-18,-16,-14,-12,-10,-8,-6,-4,-2,0,2,4,6,8,10,12,14,16,18,20],"tickSize":{"condition":{"test":"datum.value % 10 === 0","value":-9},"value":-5},"labels":false,"title":null}},"y":{"field":"y","type":"quantitative","scale":{"domain":[-20,20],"nice":false,"zero":false},"axis":{"orient":"right","values":[-20,-18,-16,-14,-12,-10,-8,-6,-4,-2,0,2,4,6,8,10,12,14,16,18,20],"tickSize":{"condition":{"test":"datum.value % 10 === 0","value":-9},"value":-5},"labels":false,"title":null}}}}
]},
{"width":190,"height":190,"resolve":{"axis":{"x":"independent","y":"independent"}},"layer":[
{"data":{"name":"o"},"mark":{"type":"point","shape":"circle","size":4489,"filled":false,"stroke":"black","strokeWidth":1.2,"opacity":1},"encoding":{"x":{"field":"x","type":"quantitative","scale":{"domain":[-20,20],"nice":false,"zero":false},"axis":{"orient":"bottom","values":[-20,-18,-16,-14,-12,-10,-8,-6,-4,-2,0,2,4,6,8,10,12,14,16,18,20],"tickSize":{"condition":{"test":"datum.value % 10 === 0","value":-9},"value":-5},"labelExpr":"datum.value % 10 === 0 ? datum.label : ''","labelPadding":15,"title":"kpc","titlePadding":4}},"y":{"field":"y","type":"quantitative","scale":{"domain":[-20,20],"nice":false,"zero":false},"axis":{"orient":"left","values":[-20,-18,-16,-14,-12,-10,-8,-6,-4,-2,0,2,4,6,8,10,12,14,16,18,20],"tickSize":{"condition":{"test":"datum.value % 10 === 0","value":-9},"value":-5},"labelExpr":"datum.value % 10 === 0 ? datum.label : ''","labelPadding":12,"title":"kpc","titlePadding":-2}}}},
{"data":{"name":"o"},"mark":{"type":"point","shape":"M-1,0L1,0M0,-1L0,1","size":256,"filled":false,"stroke":"black","strokeWidth":1.2,"opacity":1},"encoding":{"x":{"field":"x","type":"quantitative","scale":{"domain":[-20,20],"nice":false,"zero":false},"axis":null},"y":{"field":"y","type":"quantitative","scale":{"domain":[-20,20],"nice":false,"zero":false},"axis":null}}},
{"data":{"name":"s10d"},"mark":{"type":"point","shape":"M-1,-1L1,1M-1,1L1,-1","size":25,"filled":false,"stroke":"black","strokeWidth":1.4,"opacity":1},"encoding":{"x":{"field":"x","type":"quantitative","scale":{"domain":[-20,20],"nice":false,"zero":false},"axis":{"orient":"top","values":[-20,-18,-16,-14,-12,-10,-8,-6,-4,-2,0,2,4,6,8,10,12,14,16,18,20],"tickSize":{"condition":{"test":"datum.value % 10 === 0","value":-9},"value":-5},"labels":false,"title":null}},"y":{"field":"y","type":"quantitative","scale":{"domain":[-20,20],"nice":false,"zero":false},"axis":{"orient":"right","values":[-20,-18,-16,-14,-12,-10,-8,-6,-4,-2,0,2,4,6,8,10,12,14,16,18,20],"tickSize":{"condition":{"test":"datum.value % 10 === 0","value":-9},"value":-5},"labels":false,"title":null}}}}
]}
]},
{"spacing":26,"hconcat":[
{"width":190,"height":183,"resolve":{"axis":{"x":"independent","y":"independent"}},"layer":[
{"data":{"name":"h10a"},"mark":{"type":"line","color":"black","strokeWidth":1.2},"encoding":{"x":{"field":"f","type":"quantitative","scale":{"domain":[0,360],"range":[7.5,190],"nice":false,"zero":false},"axis":{"orient":"bottom","values":[0,20,40,60,80,100,120,140,160,180,200,220,240,260,280,300,320,340,360],"tickSize":{"condition":{"test":"datum.value % 100 === 0","value":-9},"value":-5},"labelExpr":"datum.value % 100 === 0 ? datum.label : ''","labelPadding":18,"title":"ϕ[°]","titlePadding":5}},"y":{"field":"m","type":"quantitative","scale":{"domain":[0,30],"nice":false,"zero":false},"axis":{"orient":"left","offset":-7.5,"values":[0,2,4,6,8,10,12,14,16,18,20,22,24,26,28,30],"tickSize":{"condition":{"test":"datum.value % 10 === 0","value":-9},"value":-5},"labelExpr":"datum.value % 10 === 0 ? datum.label : ''","labelPadding":26,"title":"M∗[10⁴ M⊙]","titlePadding":-4}}}},
{"data":{"name":"h10a"},"mark":{"type":"line","color":"black","opacity":0},"encoding":{"x":{"field":"f","type":"quantitative","scale":{"domain":[0,360],"range":[7.5,190],"nice":false,"zero":false},"axis":{"orient":"top","values":[0,20,40,60,80,100,120,140,160,180,200,220,240,260,280,300,320,340,360],"tickSize":{"condition":{"test":"datum.value % 100 === 0","value":-9},"value":-5},"labels":false,"title":null}},"y":{"field":"m","type":"quantitative","scale":{"domain":[0,30],"nice":false,"zero":false},"axis":{"orient":"right","values":[0,2,4,6,8,10,12,14,16,18,20,22,24,26,28,30],"tickSize":{"condition":{"test":"datum.value % 10 === 0","value":-9},"value":-5},"labels":false,"title":null}}}},
{"data":{"name":"lab"},"transform":[{"filter":"datum.p === 'h10'"}],"mark":{"type":"text","align":"left","baseline":"alphabetic","font":"DejaVu Serif","fontSize":19,"color":"black"},"encoding":{"x":{"field":"x","type":"quantitative","scale":{"domain":[0,360],"range":[7.5,190],"nice":false,"zero":false},"axis":null},"y":{"field":"y","type":"quantitative","scale":{"domain":[0,30],"nice":false,"zero":false},"axis":null},"text":{"field":"t","type":"nominal"}}}
]},
{"width":190,"height":183,"resolve":{"axis":{"x":"independent","y":"independent"}},"layer":[
{"data":{"name":"h10b"},"mark":{"type":"line","color":"black","strokeWidth":1.2},"encoding":{"x":{"field":"f","type":"quantitative","scale":{"domain":[0,360],"range":[7.5,190],"nice":false,"zero":false},"axis":{"orient":"bottom","values":[0,20,40,60,80,100,120,140,160,180,200,220,240,260,280,300,320,340,360],"tickSize":{"condition":{"test":"datum.value % 100 === 0","value":-9},"value":-5},"labelExpr":"datum.value % 100 === 0 ? datum.label : ''","labelPadding":18,"title":"ϕ[°]","titlePadding":5}},"y":{"field":"m","type":"quantitative","scale":{"domain":[0,30],"nice":false,"zero":false},"axis":{"orient":"left","offset":-7.5,"values":[0,2,4,6,8,10,12,14,16,18,20,22,24,26,28,30],"tickSize":{"condition":{"test":"datum.value % 10 === 0","value":-9},"value":-5},"labelExpr":"datum.value % 10 === 0 ? datum.label : ''","labelPadding":26,"title":"M∗[10⁴ M⊙]","titlePadding":-4}}}},
{"data":{"name":"h10b"},"mark":{"type":"line","color":"black","opacity":0},"encoding":{"x":{"field":"f","type":"quantitative","scale":{"domain":[0,360],"range":[7.5,190],"nice":false,"zero":false},"axis":{"orient":"top","values":[0,20,40,60,80,100,120,140,160,180,200,220,240,260,280,300,320,340,360],"tickSize":{"condition":{"test":"datum.value % 100 === 0","value":-9},"value":-5},"labels":false,"title":null}},"y":{"field":"m","type":"quantitative","scale":{"domain":[0,30],"nice":false,"zero":false},"axis":{"orient":"right","values":[0,2,4,6,8,10,12,14,16,18,20,22,24,26,28,30],"tickSize":{"condition":{"test":"datum.value % 10 === 0","value":-9},"value":-5},"labels":false,"title":null}}}}
]},
{"width":190,"height":183,"resolve":{"axis":{"x":"independent","y":"independent"}},"layer":[
{"data":{"name":"h10c"},"mark":{"type":"line","color":"black","strokeWidth":1.2},"encoding":{"x":{"field":"f","type":"quantitative","scale":{"domain":[0,360],"range":[7.5,190],"nice":false,"zero":false},"axis":{"orient":"bottom","values":[0,20,40,60,80,100,120,140,160,180,200,220,240,260,280,300,320,340,360],"tickSize":{"condition":{"test":"datum.value % 100 === 0","value":-9},"value":-5},"labelExpr":"datum.value % 100 === 0 ? datum.label : ''","labelPadding":18,"title":"ϕ[°]","titlePadding":5}},"y":{"field":"m","type":"quantitative","scale":{"domain":[0,30],"nice":false,"zero":false},"axis":{"orient":"left","offset":-7.5,"values":[0,2,4,6,8,10,12,14,16,18,20,22,24,26,28,30],"tickSize":{"condition":{"test":"datum.value % 10 === 0","value":-9},"value":-5},"labelExpr":"datum.value % 10 === 0 ? datum.label : ''","labelPadding":26,"title":"M∗[10⁴ M⊙]","titlePadding":-4}}}},
{"data":{"name":"h10c"},"mark":{"type":"line","color":"black","opacity":0},"encoding":{"x":{"field":"f","type":"quantitative","scale":{"domain":[0,360],"range":[7.5,190],"nice":false,"zero":false},"axis":{"orient":"top","values":[0,20,40,60,80,100,120,140,160,180,200,220,240,260,280,300,320,340,360],"tickSize":{"condition":{"test":"datum.value % 100 === 0","value":-9},"value":-5},"labels":false,"title":null}},"y":{"field":"m","type":"quantitative","scale":{"domain":[0,30],"nice":false,"zero":false},"axis":{"orient":"right","values":[0,2,4,6,8,10,12,14,16,18,20,22,24,26,28,30],"tickSize":{"condition":{"test":"datum.value % 10 === 0","value":-9},"value":-5},"labels":false,"title":null}}}}
]},
{"width":190,"height":183,"resolve":{"axis":{"x":"independent","y":"independent"}},"layer":[
{"data":{"name":"h10d"},"mark":{"type":"line","color":"black","strokeWidth":1.2},"encoding":{"x":{"field":"f","type":"quantitative","scale":{"domain":[0,360],"range":[7.5,190],"nice":false,"zero":false},"axis":{"orient":"bottom","values":[0,20,40,60,80,100,120,140,160,180,200,220,240,260,280,300,320,340,360],"tickSize":{"condition":{"test":"datum.value % 100 === 0","value":-9},"value":-5},"labelExpr":"datum.value % 100 === 0 ? datum.label : ''","labelPadding":18,"title":"ϕ[°]","titlePadding":5}},"y":{"field":"m","type":"quantitative","scale":{"domain":[0,30],"nice":false,"zero":false},"axis":{"orient":"left","offset":-7.5,"values":[0,2,4,6,8,10,12,14,16,18,20,22,24,26,28,30],"tickSize":{"condition":{"test":"datum.value % 10 === 0","value":-9},"value":-5},"labelExpr":"datum.value % 10 === 0 ? datum.label : ''","labelPadding":26,"title":"M∗[10⁴ M⊙]","titlePadding":-4}}}},
{"data":{"name":"h10d"},"mark":{"type":"line","color":"black","opacity":0},"encoding":{"x":{"field":"f","type":"quantitative","scale":{"domain":[0,360],"range":[7.5,190],"nice":false,"zero":false},"axis":{"orient":"top","values":[0,20,40,60,80,100,120,140,160,180,200,220,240,260,280,300,320,340,360],"tickSize":{"condition":{"test":"datum.value % 100 === 0","value":-9},"value":-5},"labels":false,"title":null}},"y":{"field":"m","type":"quantitative","scale":{"domain":[0,30],"nice":false,"zero":false},"axis":{"orient":"right","values":[0,2,4,6,8,10,12,14,16,18,20,22,24,26,28,30],"tickSize":{"condition":{"test":"datum.value % 10 === 0","value":-9},"value":-5},"labels":false,"title":null}}}}
]}
]}
]
}
